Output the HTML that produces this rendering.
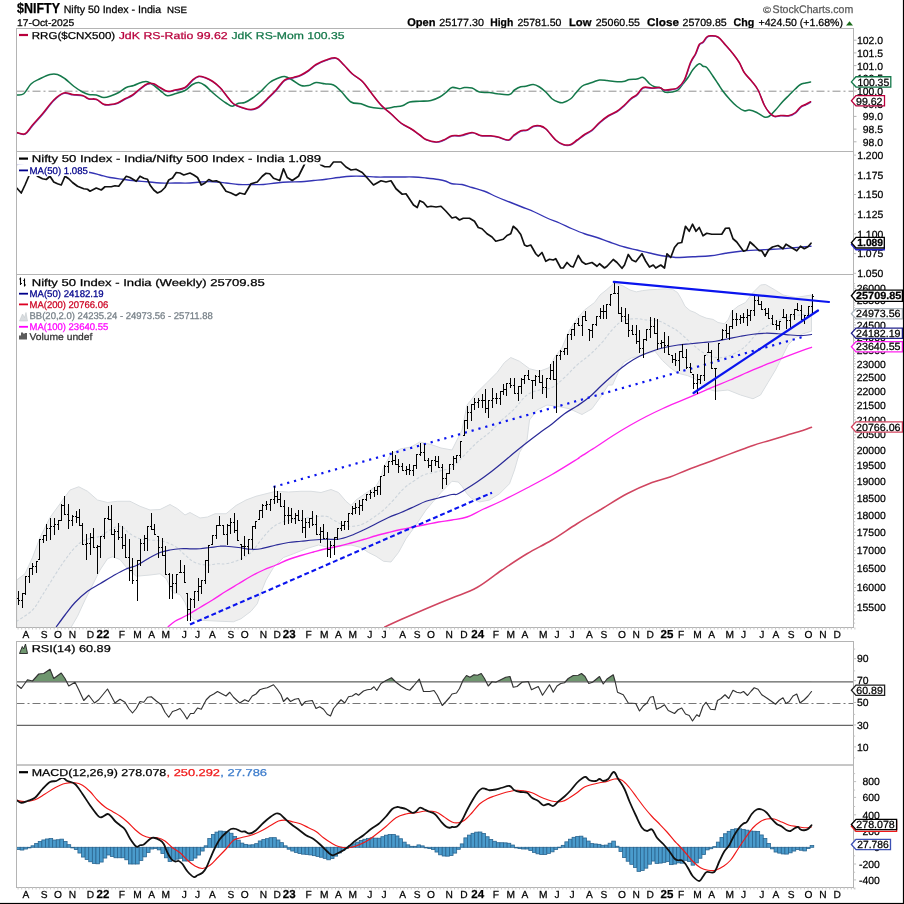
<!DOCTYPE html>
<html lang="en"><head><meta charset="utf-8"><title>$NIFTY - StockCharts</title>
<style>html,body{margin:0;padding:0;background:#fff;}body{width:904px;height:904px;overflow:hidden;font-family:"Liberation Sans",sans-serif;}svg{display:block;will-change:transform;text-rendering:geometricPrecision;}</style></head>
<body>
<svg width="904" height="904" viewBox="0 0 904 904" font-family='"Liberation Sans", sans-serif'>
<rect x="0" y="0" width="904" height="904" fill="#fff"/>
<defs>
<clipPath id="c1"><rect x="16.50" y="28.50" width="837.00" height="123.00"/></clipPath>
<clipPath id="c2"><rect x="16.50" y="151.50" width="837.00" height="123.00"/></clipPath>
<clipPath id="c3"><rect x="16.50" y="274.50" width="837.00" height="353.00"/></clipPath>
<clipPath id="c4"><rect x="16.50" y="641.50" width="837.00" height="123.50"/></clipPath>
<clipPath id="c5"><rect x="16.50" y="765.00" width="837.00" height="122.50"/></clipPath>
</defs>
<text transform="translate(17.00 13.20) scale(0.8668 1)" font-size="14.40px" fill="#000" stroke="#000" stroke-width="0.25" font-weight="bold">$NIFTY</text>
<text transform="translate(63.70 13.00) scale(1.0029 1)" font-size="10.60px" fill="#000" stroke="#000" stroke-width="0.25" font-weight="normal">Nifty 50 Index - India</text>
<text transform="translate(167.00 13.00) scale(1.0808 1)" font-size="9.00px" fill="#000" stroke="#000" stroke-width="0.25" font-weight="normal">NSE</text>
<text transform="translate(17.00 25.90) scale(1.0627 1)" font-size="9.70px" fill="#000" stroke="#000" stroke-width="0.25" font-weight="normal">17-Oct-2025</text>
<text transform="translate(407.20 25.80) scale(1.0067 1)" font-size="11.00px" fill="#000" stroke="#000" stroke-width="0.25" font-weight="bold">Open</text>
<text transform="translate(439.20 25.80) scale(1.0328 1)" font-size="10.40px" fill="#000" stroke="#000" stroke-width="0.25" font-weight="normal">25177.30</text>
<text transform="translate(490.20 25.80) scale(0.9411 1)" font-size="11.00px" fill="#000" stroke="#000" stroke-width="0.25" font-weight="bold">High</text>
<text transform="translate(517.50 25.80) scale(1.0143 1)" font-size="10.40px" fill="#000" stroke="#000" stroke-width="0.25" font-weight="normal">25781.50</text>
<text transform="translate(569.00 25.80) scale(1.0230 1)" font-size="11.00px" fill="#000" stroke="#000" stroke-width="0.25" font-weight="bold">Low</text>
<text transform="translate(595.70 25.80) scale(1.0213 1)" font-size="10.40px" fill="#000" stroke="#000" stroke-width="0.25" font-weight="normal">25060.55</text>
<text transform="translate(647.00 25.80) scale(1.0683 1)" font-size="11.00px" fill="#000" stroke="#000" stroke-width="0.25" font-weight="bold">Close</text>
<text transform="translate(682.50 25.80) scale(1.0213 1)" font-size="10.40px" fill="#000" stroke="#000" stroke-width="0.25" font-weight="normal">25709.85</text>
<text transform="translate(733.50 25.80) scale(0.9728 1)" font-size="11.00px" fill="#000" stroke="#000" stroke-width="0.25" font-weight="bold">Chg</text>
<text transform="translate(758.50 25.80) scale(1.0149 1)" font-size="10.40px" fill="#000" stroke="#000" stroke-width="0.25" font-weight="normal">+424.50 (+1.68%)</text>
<path d="M846 25.6 L853 25.6 L849.5 21.2 Z" fill="#1a6b1a"/>
<text transform="translate(763.00 12.90) scale(1.2064 1)" font-size="9.00px" fill="#555" stroke="#555" stroke-width="0.25" font-weight="normal">©</text>
<text transform="translate(772.60 13.40) scale(0.9624 1)" font-size="11.00px" fill="#5a5a5a" stroke="#5a5a5a" stroke-width="0.25" font-weight="normal">StockCharts.com</text>
<g clip-path="url(#c1)">
<line x1="16.50" y1="91.20" x2="853.50" y2="91.20" stroke="#909090" stroke-width="1" stroke-dasharray="8 3 2 3"/>
<path d="M16.75 95.00 C18.01 94.78 21.14 95.78 23.75 93.75 C26.36 91.72 28.32 86.45 31.25 83.75 C34.17 81.05 36.62 80.42 40.00 78.75 C43.38 77.08 46.85 75.27 50.00 74.50 C53.15 73.73 54.80 73.73 57.50 74.50 C60.20 75.27 62.08 76.64 65.00 78.75 C67.92 80.86 70.60 83.86 73.75 86.25 C76.90 88.64 79.80 90.52 82.50 92.00 C85.20 93.48 86.28 93.96 88.75 94.50 C91.22 95.04 93.55 94.46 96.25 95.00 C98.95 95.54 101.05 97.36 103.75 97.50 C106.45 97.64 108.55 96.65 111.25 95.75 C113.95 94.85 116.05 93.98 118.75 92.50 C121.45 91.02 123.55 88.76 126.25 87.50 C128.95 86.24 131.05 86.40 133.75 85.50 C136.45 84.60 138.78 83.17 141.25 82.50 C143.72 81.83 145.03 81.08 147.50 81.75 C149.97 82.42 152.30 84.31 155.00 86.25 C157.70 88.19 160.25 90.79 162.50 92.50 C164.75 94.21 165.25 95.53 167.50 95.75 C169.75 95.97 171.85 94.69 175.00 93.75 C178.15 92.81 181.85 92.17 185.00 90.50 C188.15 88.83 190.03 85.94 192.50 84.50 C194.97 83.06 196.50 82.32 198.75 82.50 C201.00 82.68 202.53 83.70 205.00 85.50 C207.47 87.30 209.80 90.11 212.50 92.50 C215.20 94.89 217.57 96.86 220.00 98.75 C222.43 100.64 223.79 101.65 226.00 103.00 C228.21 104.35 230.00 106.20 232.25 106.25 C234.50 106.30 236.25 103.92 238.50 103.25 C240.75 102.58 242.28 103.40 244.75 102.50 C247.22 101.60 249.32 100.28 252.25 98.25 C255.18 96.22 257.85 94.08 261.00 91.25 C264.15 88.42 266.60 84.89 269.75 82.50 C272.90 80.11 275.80 79.08 278.50 78.00 C281.20 76.92 282.27 76.14 284.75 76.50 C287.23 76.86 289.32 78.38 292.25 80.00 C295.18 81.62 298.07 84.51 301.00 85.50 C303.93 86.49 305.80 86.04 308.50 85.50 C311.20 84.96 313.07 82.81 316.00 82.50 C318.93 82.19 321.60 83.30 324.75 83.75 C327.90 84.20 330.57 83.65 333.50 85.00 C336.43 86.35 337.85 88.19 341.00 91.25 C344.15 94.31 347.40 99.75 351.00 102.00 C354.60 104.25 357.62 102.85 361.00 103.75 C364.38 104.65 366.60 106.19 369.75 107.00 C372.90 107.81 375.35 108.03 378.50 108.25 C381.65 108.47 384.32 108.52 387.25 108.25 C390.18 107.98 392.05 107.20 394.75 106.75 C397.45 106.30 399.55 106.61 402.25 105.75 C404.95 104.89 406.60 102.81 409.75 102.00 C412.90 101.19 415.93 101.52 419.75 101.25 C423.57 100.98 427.40 101.27 431.00 100.50 C434.60 99.73 437.05 98.44 439.75 97.00 C442.45 95.56 443.80 94.21 446.00 92.50 C448.20 90.79 449.57 88.17 452.00 87.50 C454.43 86.83 457.25 88.75 459.50 88.75 C461.75 88.75 462.25 87.64 464.50 87.50 C466.75 87.36 469.30 87.19 472.00 88.00 C474.70 88.81 476.35 91.19 479.50 92.00 C482.65 92.81 486.35 92.19 489.50 92.50 C492.65 92.81 493.40 93.39 497.00 93.75 C500.60 94.11 506.35 95.17 509.50 94.50 C512.65 93.83 512.48 91.39 514.50 90.00 C516.52 88.61 518.73 87.42 520.75 86.75 C522.77 86.08 523.50 86.66 525.75 86.25 C528.00 85.84 530.77 84.36 533.25 84.50 C535.73 84.64 537.25 85.65 539.50 87.00 C541.75 88.35 543.50 89.89 545.75 92.00 C548.00 94.11 549.75 96.95 552.00 98.75 C554.25 100.55 556.23 101.33 558.25 102.00 C560.27 102.67 561.00 103.08 563.25 102.50 C565.50 101.92 568.50 100.46 570.75 98.75 C573.00 97.04 573.73 95.25 575.75 93.00 C577.77 90.75 579.75 87.92 582.00 86.25 C584.25 84.58 586.23 84.52 588.25 83.75 C590.27 82.98 591.23 82.67 593.25 82.00 C595.27 81.33 597.02 80.27 599.50 80.00 C601.98 79.73 604.30 80.23 607.00 80.50 C609.70 80.77 611.58 81.32 614.50 81.50 C617.42 81.68 620.55 81.86 623.25 81.50 C625.95 81.14 627.02 79.95 629.50 79.50 C631.98 79.05 634.52 79.36 637.00 79.00 C639.48 78.64 641.00 76.64 643.25 77.50 C645.50 78.36 647.48 82.08 649.50 83.75 C651.52 85.42 652.48 85.98 654.50 86.75 C656.52 87.52 658.95 87.06 660.75 88.00 C662.55 88.94 662.48 91.28 664.50 92.00 C666.52 92.72 669.57 92.36 672.00 92.00 C674.43 91.64 676.02 91.48 678.00 90.00 C679.98 88.52 681.20 86.00 683.00 83.75 C684.80 81.50 686.20 80.06 688.00 77.50 C689.80 74.94 690.98 71.97 693.00 69.50 C695.02 67.03 697.45 64.33 699.25 63.75 C701.05 63.16 701.65 65.58 703.00 66.25 C704.35 66.92 704.95 65.70 706.75 67.50 C708.55 69.30 710.98 73.33 713.00 76.25 C715.02 79.17 716.20 81.05 718.00 83.75 C719.80 86.45 720.98 88.55 723.00 91.25 C725.02 93.95 726.77 96.05 729.25 98.75 C731.73 101.45 734.05 104.09 736.75 106.25 C739.45 108.41 742.00 110.08 744.25 110.75 C746.50 111.42 747.00 109.69 749.25 110.00 C751.50 110.31 754.05 111.24 756.75 112.50 C759.45 113.76 762.00 116.33 764.25 117.00 C766.50 117.67 767.23 117.51 769.25 116.25 C771.27 114.99 773.02 112.70 775.50 110.00 C777.98 107.30 780.52 103.95 783.00 101.25 C785.48 98.55 787.00 97.25 789.25 95.00 C791.50 92.75 793.48 90.64 795.50 88.75 C797.52 86.86 798.70 85.53 800.50 84.50 C802.30 83.47 803.70 83.45 805.50 83.00 C807.30 82.55 809.60 82.18 810.50 82.00" fill="none" stroke="#14784a" stroke-width="1.55" stroke-linejoin="round" stroke-linecap="round"/>
<path d="M17.05 133.00 C18.54 133.22 22.47 135.60 25.30 134.25 C28.13 132.90 29.65 129.10 32.80 125.50 C35.95 121.90 38.97 118.75 42.80 114.25 C46.62 109.75 50.22 104.23 54.05 100.50 C57.88 96.77 60.67 94.49 64.05 93.50 C67.42 92.51 69.42 94.55 72.80 95.00 C76.17 95.45 79.88 95.23 82.80 96.00 C85.72 96.77 86.58 98.58 89.05 99.25 C91.52 99.92 93.85 98.76 96.55 99.75 C99.25 100.74 101.58 103.81 104.05 104.75 C106.52 105.69 107.83 105.22 110.30 105.00 C112.77 104.78 115.10 104.53 117.80 103.50 C120.50 102.47 122.60 100.69 125.30 99.25 C128.00 97.81 130.10 97.30 132.80 95.50 C135.50 93.70 137.60 91.28 140.30 89.25 C143.00 87.22 145.33 85.15 147.80 84.25 C150.28 83.35 151.80 83.58 154.05 84.25 C156.30 84.92 157.83 86.65 160.30 88.00 C162.78 89.35 165.10 91.30 167.80 91.75 C170.50 92.20 172.15 91.17 175.30 90.50 C178.45 89.83 182.15 89.80 185.30 88.00 C188.45 86.20 190.33 82.53 192.80 80.50 C195.28 78.47 196.80 77.20 199.05 76.75 C201.30 76.30 202.83 77.10 205.30 78.00 C207.78 78.90 210.10 79.95 212.80 81.75 C215.50 83.55 217.87 85.53 220.30 88.00 C222.73 90.47 223.87 92.58 226.30 95.50 C228.73 98.42 230.65 101.91 233.80 104.25 C236.95 106.59 240.65 107.47 243.80 108.50 C246.95 109.53 248.60 110.18 251.30 110.00 C254.00 109.82 255.88 109.44 258.80 107.50 C261.73 105.56 264.40 102.31 267.55 99.25 C270.70 96.19 273.15 93.88 276.30 90.50 C279.45 87.12 281.90 82.75 285.05 80.50 C288.20 78.25 290.88 78.90 293.80 78.00 C296.73 77.10 298.60 76.76 301.30 75.50 C304.00 74.24 306.10 72.89 308.80 71.00 C311.50 69.11 313.15 66.89 316.30 65.00 C319.45 63.11 322.70 61.67 326.30 60.50 C329.90 59.33 333.15 57.69 336.30 58.50 C339.45 59.31 340.88 62.16 343.80 65.00 C346.73 67.83 349.18 71.23 352.55 74.25 C355.93 77.27 359.18 78.38 362.55 81.75 C365.93 85.12 367.93 88.72 371.30 93.00 C374.68 97.28 377.70 101.67 381.30 105.50 C384.90 109.33 387.70 111.01 391.30 114.25 C394.90 117.49 397.70 120.80 401.30 123.50 C404.90 126.20 407.93 127.09 411.30 129.25 C414.68 131.41 417.35 133.56 420.05 135.50 C422.75 137.44 423.38 138.74 426.30 140.00 C429.23 141.26 433.15 142.41 436.30 142.50 C439.45 142.59 440.92 141.62 443.80 140.50 C446.68 139.38 449.19 137.06 452.30 136.25 C455.41 135.44 457.45 136.59 461.05 136.00 C464.65 135.41 468.70 133.00 472.30 133.00 C475.90 133.00 477.68 135.41 481.05 136.00 C484.43 136.59 487.90 135.98 491.05 136.25 C494.20 136.52 495.40 136.74 498.55 137.50 C501.70 138.26 505.85 140.72 508.55 140.50 C511.25 140.28 511.30 137.91 513.55 136.25 C515.80 134.59 518.57 132.28 521.05 131.25 C523.52 130.22 525.05 131.31 527.30 130.50 C529.55 129.69 531.30 127.52 533.55 126.75 C535.80 125.98 537.55 125.80 539.80 126.25 C542.05 126.70 543.12 126.69 546.05 129.25 C548.97 131.81 552.90 137.66 556.05 140.50 C559.20 143.34 560.85 144.19 563.55 145.00 C566.25 145.81 568.57 145.81 571.05 145.00 C573.52 144.19 574.82 142.30 577.30 140.50 C579.77 138.70 582.10 136.80 584.80 135.00 C587.50 133.20 589.60 132.66 592.30 130.50 C595.00 128.34 596.88 125.56 599.80 123.00 C602.72 120.44 605.40 118.28 608.55 116.25 C611.70 114.22 614.38 113.69 617.30 111.75 C620.22 109.81 622.32 107.75 624.80 105.50 C627.27 103.25 628.80 101.14 631.05 99.25 C633.30 97.36 635.05 97.03 637.30 95.00 C639.55 92.97 640.85 89.17 643.55 88.00 C646.25 86.83 649.38 88.50 652.30 88.50 C655.22 88.50 657.55 87.64 659.80 88.00 C662.05 88.36 662.55 90.19 664.80 90.50 C667.05 90.81 669.87 90.20 672.30 89.75 C674.73 89.30 676.09 89.67 678.30 88.00 C680.50 86.33 682.30 85.00 684.55 80.50 C686.80 76.00 688.77 67.72 690.80 63.00 C692.82 58.27 694.22 57.49 695.80 54.25 C697.38 51.01 698.20 47.12 699.55 45.00 C700.90 42.88 701.95 43.85 703.30 42.50 C704.65 41.15 705.70 38.62 707.05 37.50 C708.40 36.38 708.77 36.25 710.80 36.25 C712.82 36.25 715.60 35.84 718.30 37.50 C721.00 39.16 723.10 42.48 725.80 45.50 C728.50 48.52 730.82 51.10 733.30 54.25 C735.77 57.40 737.52 59.62 739.55 63.00 C741.57 66.38 742.30 69.62 744.55 73.00 C746.80 76.38 749.57 78.60 752.05 81.75 C754.52 84.90 756.05 86.22 758.30 90.50 C760.55 94.78 762.52 101.45 764.55 105.50 C766.57 109.55 767.75 110.97 769.55 113.00 C771.35 115.03 772.52 116.21 774.55 116.75 C776.57 117.29 778.10 116.14 780.80 116.00 C783.50 115.86 786.85 116.54 789.55 116.00 C792.25 115.46 793.77 114.53 795.80 113.00 C797.82 111.47 799.00 108.94 800.80 107.50 C802.60 106.06 804.00 105.94 805.80 105.00 C807.60 104.06 809.90 102.75 810.80 102.25" fill="none" stroke="#6a55c8" stroke-width="1.2" stroke-linejoin="round" stroke-linecap="round"/>
<path d="M16.75 132.50 C18.23 132.72 22.16 135.10 25.00 133.75 C27.84 132.40 29.35 128.60 32.50 125.00 C35.65 121.40 38.67 118.25 42.50 113.75 C46.33 109.25 49.92 103.73 53.75 100.00 C57.58 96.27 60.38 93.99 63.75 93.00 C67.12 92.01 69.12 94.05 72.50 94.50 C75.88 94.95 79.58 94.73 82.50 95.50 C85.42 96.27 86.28 98.08 88.75 98.75 C91.22 99.42 93.55 98.26 96.25 99.25 C98.95 100.24 101.28 103.31 103.75 104.25 C106.22 105.19 107.53 104.72 110.00 104.50 C112.47 104.28 114.80 104.03 117.50 103.00 C120.20 101.97 122.30 100.19 125.00 98.75 C127.70 97.31 129.80 96.80 132.50 95.00 C135.20 93.20 137.30 90.78 140.00 88.75 C142.70 86.72 145.03 84.65 147.50 83.75 C149.97 82.85 151.50 83.08 153.75 83.75 C156.00 84.42 157.53 86.15 160.00 87.50 C162.47 88.85 164.80 90.80 167.50 91.25 C170.20 91.70 171.85 90.67 175.00 90.00 C178.15 89.33 181.85 89.30 185.00 87.50 C188.15 85.70 190.03 82.03 192.50 80.00 C194.97 77.97 196.50 76.70 198.75 76.25 C201.00 75.80 202.53 76.60 205.00 77.50 C207.47 78.40 209.80 79.45 212.50 81.25 C215.20 83.05 217.57 85.03 220.00 87.50 C222.43 89.97 223.57 92.08 226.00 95.00 C228.43 97.92 230.35 101.41 233.50 103.75 C236.65 106.09 240.35 106.97 243.50 108.00 C246.65 109.03 248.30 109.68 251.00 109.50 C253.70 109.32 255.57 108.94 258.50 107.00 C261.43 105.06 264.10 101.81 267.25 98.75 C270.40 95.69 272.85 93.38 276.00 90.00 C279.15 86.62 281.60 82.25 284.75 80.00 C287.90 77.75 290.57 78.40 293.50 77.50 C296.43 76.60 298.30 76.26 301.00 75.00 C303.70 73.74 305.80 72.39 308.50 70.50 C311.20 68.61 312.85 66.39 316.00 64.50 C319.15 62.61 322.40 61.17 326.00 60.00 C329.60 58.83 332.85 57.19 336.00 58.00 C339.15 58.81 340.57 61.66 343.50 64.50 C346.43 67.33 348.88 70.73 352.25 73.75 C355.62 76.77 358.88 77.88 362.25 81.25 C365.62 84.62 367.62 88.22 371.00 92.50 C374.38 96.78 377.40 101.17 381.00 105.00 C384.60 108.83 387.40 110.51 391.00 113.75 C394.60 116.99 397.40 120.30 401.00 123.00 C404.60 125.70 407.62 126.59 411.00 128.75 C414.38 130.91 417.05 133.06 419.75 135.00 C422.45 136.94 423.07 138.24 426.00 139.50 C428.93 140.76 432.85 141.91 436.00 142.00 C439.15 142.09 440.62 141.12 443.50 140.00 C446.38 138.88 448.89 136.56 452.00 135.75 C455.11 134.94 457.15 136.09 460.75 135.50 C464.35 134.91 468.40 132.50 472.00 132.50 C475.60 132.50 477.38 134.91 480.75 135.50 C484.12 136.09 487.60 135.48 490.75 135.75 C493.90 136.02 495.10 136.24 498.25 137.00 C501.40 137.76 505.55 140.22 508.25 140.00 C510.95 139.78 511.00 137.41 513.25 135.75 C515.50 134.09 518.27 131.78 520.75 130.75 C523.23 129.72 524.75 130.81 527.00 130.00 C529.25 129.19 531.00 127.02 533.25 126.25 C535.50 125.48 537.25 125.30 539.50 125.75 C541.75 126.20 542.83 126.19 545.75 128.75 C548.67 131.31 552.60 137.16 555.75 140.00 C558.90 142.84 560.55 143.69 563.25 144.50 C565.95 145.31 568.27 145.31 570.75 144.50 C573.23 143.69 574.52 141.80 577.00 140.00 C579.48 138.20 581.80 136.30 584.50 134.50 C587.20 132.70 589.30 132.16 592.00 130.00 C594.70 127.84 596.58 125.06 599.50 122.50 C602.42 119.94 605.10 117.78 608.25 115.75 C611.40 113.72 614.08 113.19 617.00 111.25 C619.92 109.31 622.02 107.25 624.50 105.00 C626.98 102.75 628.50 100.64 630.75 98.75 C633.00 96.86 634.75 96.53 637.00 94.50 C639.25 92.47 640.55 88.67 643.25 87.50 C645.95 86.33 649.08 88.00 652.00 88.00 C654.92 88.00 657.25 87.14 659.50 87.50 C661.75 87.86 662.25 89.69 664.50 90.00 C666.75 90.31 669.57 89.70 672.00 89.25 C674.43 88.80 675.79 89.17 678.00 87.50 C680.21 85.83 682.00 84.50 684.25 80.00 C686.50 75.50 688.48 67.22 690.50 62.50 C692.52 57.77 693.92 56.99 695.50 53.75 C697.08 50.51 697.90 46.62 699.25 44.50 C700.60 42.38 701.65 43.35 703.00 42.00 C704.35 40.65 705.40 38.12 706.75 37.00 C708.10 35.88 708.48 35.75 710.50 35.75 C712.52 35.75 715.30 35.34 718.00 37.00 C720.70 38.66 722.80 41.98 725.50 45.00 C728.20 48.02 730.52 50.60 733.00 53.75 C735.48 56.90 737.23 59.12 739.25 62.50 C741.27 65.88 742.00 69.12 744.25 72.50 C746.50 75.88 749.27 78.10 751.75 81.25 C754.23 84.40 755.75 85.72 758.00 90.00 C760.25 94.28 762.23 100.95 764.25 105.00 C766.27 109.05 767.45 110.47 769.25 112.50 C771.05 114.53 772.23 115.71 774.25 116.25 C776.27 116.79 777.80 115.64 780.50 115.50 C783.20 115.36 786.55 116.04 789.25 115.50 C791.95 114.96 793.48 114.03 795.50 112.50 C797.52 110.97 798.70 108.44 800.50 107.00 C802.30 105.56 803.70 105.44 805.50 104.50 C807.30 103.56 809.60 102.25 810.50 101.75" fill="none" stroke="#b8003c" stroke-width="1.55" stroke-linejoin="round" stroke-linecap="round"/>
</g>
<g clip-path="url(#c2)">
<path d="M16.75 165.00 C19.13 165.22 24.02 165.71 30.00 166.25 C35.98 166.79 42.80 167.32 50.00 168.00 C57.20 168.68 62.80 169.19 70.00 170.00 C77.20 170.81 84.60 171.60 90.00 172.50 C95.40 173.40 96.40 174.10 100.00 175.00 C103.60 175.90 105.95 176.74 110.00 177.50 C114.05 178.26 118.00 178.66 122.50 179.25 C127.00 179.84 130.50 180.30 135.00 180.75 C139.50 181.20 143.00 181.34 147.50 181.75 C152.00 182.16 155.05 182.78 160.00 183.00 C164.95 183.22 169.60 183.00 175.00 183.00 C180.40 183.00 185.50 183.18 190.00 183.00 C194.50 182.82 195.95 182.22 200.00 182.00 C204.05 181.78 207.82 181.57 212.50 181.75 C217.18 181.93 221.32 182.50 226.00 183.00 C230.68 183.50 234.00 184.23 238.50 184.50 C243.00 184.77 246.50 184.50 251.00 184.50 C255.50 184.50 259.00 184.77 263.50 184.50 C268.00 184.23 271.50 183.45 276.00 183.00 C280.50 182.55 284.00 182.22 288.50 182.00 C293.00 181.78 296.50 182.02 301.00 181.75 C305.50 181.48 309.00 180.95 313.50 180.50 C318.00 180.05 321.50 179.79 326.00 179.25 C330.50 178.71 334.00 178.04 338.50 177.50 C343.00 176.96 346.50 176.47 351.00 176.25 C355.50 176.03 359.00 176.12 363.50 176.25 C368.00 176.38 371.50 176.87 376.00 177.00 C380.50 177.13 384.00 177.00 388.50 177.00 C393.00 177.00 396.50 177.00 401.00 177.00 C405.50 177.00 409.00 176.82 413.50 177.00 C418.00 177.18 421.50 177.55 426.00 178.00 C430.50 178.45 434.90 178.91 438.50 179.50 C442.10 180.09 443.57 180.49 446.00 181.25 C448.43 182.01 449.12 183.16 452.00 183.75 C454.88 184.34 458.40 183.82 462.00 184.50 C465.60 185.18 467.95 186.28 472.00 187.50 C476.05 188.72 480.00 189.54 484.50 191.25 C489.00 192.96 492.50 195.06 497.00 197.00 C501.50 198.94 505.00 200.20 509.50 202.00 C514.00 203.80 517.50 205.20 522.00 207.00 C526.50 208.80 530.00 210.02 534.50 212.00 C539.00 213.98 542.50 216.02 547.00 218.00 C551.50 219.98 555.00 221.06 559.50 223.00 C564.00 224.94 567.50 226.81 572.00 228.75 C576.50 230.69 580.00 232.18 584.50 233.75 C589.00 235.32 592.50 236.01 597.00 237.50 C601.50 238.99 604.55 240.29 609.50 242.00 C614.45 243.71 619.55 245.56 624.50 247.00 C629.45 248.44 632.50 248.92 637.00 250.00 C641.50 251.08 645.00 251.97 649.50 253.00 C654.00 254.03 657.95 255.03 662.00 255.75 C666.05 256.47 669.12 256.69 672.00 257.00 C674.88 257.31 674.22 257.55 678.00 257.50 C681.78 257.45 687.15 257.06 693.00 256.75 C698.85 256.44 704.65 256.38 710.50 255.75 C716.35 255.12 720.10 254.06 725.50 253.25 C730.90 252.44 734.65 251.84 740.50 251.25 C746.35 250.66 752.15 250.36 758.00 250.00 C763.85 249.64 767.15 249.61 773.00 249.25 C778.85 248.89 785.10 248.41 790.50 248.00 C795.90 247.59 799.31 247.31 803.00 247.00 C806.69 246.69 809.56 246.38 811.00 246.25" fill="none" stroke="#3434b4" stroke-width="1.35" stroke-linejoin="round" stroke-linecap="round"/>
<path d="M16.75 188.00 L21.25 193.00 L25.00 185.00 L28.75 176.25 L31.25 170.00 L34.50 172.00 L37.50 176.25 L42.50 178.75 L46.25 179.50 L50.00 176.25 L53.75 182.00 L57.50 183.75 L61.25 185.00 L65.00 176.25 L68.75 178.75 L72.50 182.50 L77.50 186.25 L83.75 188.75 L87.50 189.25 L90.00 191.25 L96.25 188.00 L101.25 190.00 L105.00 186.75 L111.25 186.75 L115.00 185.75 L118.75 186.25 L122.50 181.25 L126.25 176.25 L130.00 177.50 L136.25 181.25 L140.00 176.25 L143.75 178.25 L147.50 179.25 L150.00 185.00 L153.75 190.00 L157.50 193.00 L161.25 191.25 L165.00 187.50 L168.75 180.00 L172.50 178.00 L176.25 172.50 L180.00 173.00 L183.75 175.00 L190.00 173.00 L193.75 175.00 L197.50 177.50 L201.25 185.00 L205.00 183.00 L208.75 179.50 L212.50 181.25 L216.25 180.75 L220.00 182.50 L226.00 191.25 L231.00 193.00 L236.00 195.50 L239.75 193.00 L244.75 194.25 L251.00 183.75 L257.25 182.00 L262.25 176.25 L266.00 173.25 L269.75 173.75 L273.50 178.25 L279.75 180.50 L283.50 168.75 L287.25 177.50 L292.25 180.50 L298.50 176.25 L304.75 163.75 L309.75 158.75 L313.50 160.50 L317.25 159.50 L321.00 165.00 L324.75 166.75 L329.75 166.75 L333.50 162.00 L341.00 162.00 L346.00 167.00 L351.00 170.00 L356.00 169.25 L362.25 172.50 L367.25 178.00 L373.50 185.00 L381.00 180.75 L386.00 182.00 L391.00 180.75 L396.00 188.75 L402.25 194.25 L406.00 193.75 L413.50 205.00 L417.25 207.50 L419.75 200.75 L423.50 202.50 L427.25 207.00 L431.00 206.25 L436.00 207.00 L441.00 206.25 L446.00 211.25 L452.00 218.00 L455.75 217.00 L459.50 220.00 L463.25 218.25 L469.50 218.25 L474.50 221.25 L478.25 227.50 L482.00 228.75 L487.00 233.75 L492.00 237.00 L495.75 241.25 L503.25 239.25 L507.00 235.50 L510.75 233.75 L513.25 226.25 L517.00 229.50 L520.75 234.50 L524.50 245.00 L527.00 246.25 L530.75 245.00 L535.75 253.75 L538.25 256.25 L542.00 252.50 L545.75 261.25 L549.50 259.25 L553.25 260.00 L555.75 258.75 L560.75 268.00 L563.25 268.00 L567.00 262.50 L570.75 266.25 L573.25 267.00 L578.25 255.50 L582.00 261.75 L585.75 264.25 L592.00 262.50 L597.00 266.25 L599.50 263.75 L604.50 268.00 L607.00 266.25 L613.25 259.50 L617.00 262.50 L622.00 268.25 L624.50 265.00 L628.25 254.50 L632.00 260.00 L635.75 261.75 L642.00 253.75 L645.75 261.25 L649.50 267.00 L653.25 265.00 L655.75 268.00 L660.75 265.00 L664.50 268.00 L667.00 253.75 L670.75 257.50 L674.50 247.50 L678.00 243.25 L681.75 242.50 L685.50 226.25 L689.25 231.25 L692.50 224.25 L696.00 231.25 L699.25 227.50 L703.00 235.75 L706.75 233.25 L711.75 234.25 L721.75 234.25 L725.50 228.25 L729.25 228.00 L733.00 238.75 L736.75 242.00 L743.50 251.25 L746.75 250.00 L750.00 242.00 L754.25 245.75 L759.25 250.75 L761.75 250.75 L765.00 256.25 L768.50 250.00 L772.50 247.00 L778.00 245.50 L783.00 248.75 L786.00 244.25 L790.50 247.00 L796.75 250.75 L800.50 246.25 L804.25 248.75 L808.00 246.75 L811.00 243.25" fill="none" stroke="#111" stroke-width="1.7" stroke-linejoin="round" stroke-linecap="round"/>
</g>
<g clip-path="url(#c3)">
<path d="M16.75 580.00 L25.00 573.75 L32.50 557.50 L40.00 537.50 L50.00 517.50 L60.00 503.75 L70.00 490.00 L78.75 486.75 L87.50 491.25 L97.50 500.00 L107.50 502.50 L117.50 501.25 L130.00 501.25 L140.00 506.25 L150.00 510.00 L160.00 509.50 L170.00 504.50 L177.50 508.75 L185.00 515.00 L190.00 512.50 L200.00 518.00 L207.50 517.00 L215.00 513.75 L226.00 513.75 L236.00 505.50 L246.00 500.00 L256.00 496.25 L266.00 493.75 L276.00 491.25 L288.50 492.00 L301.00 491.25 L311.00 491.25 L321.00 492.50 L331.00 489.50 L338.50 492.50 L346.00 501.25 L351.00 505.50 L356.00 500.00 L366.00 493.00 L376.00 486.25 L381.00 477.50 L383.50 467.50 L391.00 453.75 L401.00 448.75 L411.00 447.00 L419.75 442.00 L431.00 444.50 L441.00 448.00 L452.00 450.00 L462.00 430.00 L467.00 405.00 L477.00 392.50 L487.00 382.50 L497.00 372.50 L504.50 362.50 L510.75 357.50 L519.50 361.25 L529.50 368.75 L539.50 371.25 L549.50 367.50 L554.50 357.50 L562.00 347.50 L569.50 330.00 L577.00 318.75 L584.50 310.00 L594.50 302.50 L600.00 295.00 L606.25 290.00 L611.25 285.62 L614.38 282.50 L616.25 283.75 L622.50 285.62 L630.00 290.00 L636.25 291.88 L642.50 290.62 L650.00 289.75 L657.50 289.38 L665.00 288.75 L672.50 289.38 L677.50 292.50 L681.25 298.75 L685.00 306.25 L690.00 310.62 L695.00 312.50 L700.00 315.62 L706.25 318.12 L713.00 319.38 L718.00 322.50 L724.25 323.75 L728.00 320.00 L731.75 311.25 L738.00 306.25 L745.50 302.50 L753.00 292.50 L760.50 285.00 L765.50 284.50 L774.25 289.50 L783.00 295.00 L795.50 297.50 L811.50 295.00 L811.50 331.25 L803.00 333.75 L795.50 337.50 L788.00 345.00 L783.00 355.00 L775.50 370.00 L768.00 382.50 L760.50 395.00 L753.00 398.75 L740.50 395.00 L728.00 390.00 L715.50 391.25 L703.00 387.50 L695.00 378.75 L687.50 375.62 L677.50 373.12 L670.00 367.50 L662.50 360.62 L655.00 351.25 L642.50 355.00 L631.25 358.12 L623.75 362.50 L618.75 371.25 L612.50 385.00 L608.25 385.00 L602.00 395.00 L592.00 408.75 L582.00 414.50 L569.50 408.75 L557.00 406.25 L547.00 405.00 L537.00 410.00 L529.50 420.00 L527.00 440.00 L519.50 452.50 L514.50 470.00 L509.50 483.75 L499.50 493.75 L489.50 500.00 L479.50 502.00 L472.00 498.75 L467.00 493.75 L462.00 486.25 L458.25 482.00 L452.00 481.25 L441.00 492.50 L433.50 501.25 L426.00 510.00 L416.00 525.00 L406.00 538.75 L398.50 552.50 L391.00 562.00 L383.50 561.25 L376.00 556.25 L368.50 552.50 L361.00 547.50 L351.00 545.00 L338.50 546.25 L328.50 547.50 L318.50 545.00 L306.00 548.75 L293.50 553.75 L283.50 557.50 L273.50 567.50 L266.00 580.00 L261.00 592.50 L257.25 603.75 L251.00 611.25 L241.00 618.75 L233.50 621.75 L226.00 621.50 L215.00 621.00 L205.00 620.50 L193.75 619.50 L190.00 615.00 L185.00 602.50 L180.00 594.50 L172.50 592.50 L166.25 578.75 L160.00 573.75 L150.00 575.00 L136.25 576.25 L127.50 568.75 L120.00 559.50 L112.50 556.75 L107.50 558.75 L100.00 570.00 L92.50 585.00 L85.00 600.00 L77.50 616.25 L71.25 627.00 L50.00 655.00 L16.75 665.00 Z" fill="#efefef" stroke="#d9dde0" stroke-width="1" stroke-linejoin="round"/>
<path d="M16.75 621.25 C19.59 619.23 27.87 614.73 32.50 610.00 C37.13 605.27 38.45 601.30 42.50 595.00 C46.55 588.70 50.95 581.30 55.00 575.00 C59.05 568.70 61.40 564.95 65.00 560.00 C68.60 555.05 71.40 551.10 75.00 547.50 C78.60 543.90 80.50 542.02 85.00 540.00 C89.50 537.98 95.50 538.05 100.00 536.25 C104.50 534.45 106.40 531.80 110.00 530.00 C113.60 528.20 116.40 525.58 120.00 526.25 C123.60 526.92 126.40 531.50 130.00 533.75 C133.60 536.00 136.40 537.62 140.00 538.75 C143.60 539.88 145.95 539.55 150.00 540.00 C154.05 540.45 158.00 540.12 162.50 541.25 C167.00 542.38 170.95 543.77 175.00 546.25 C179.05 548.73 181.40 552.08 185.00 555.00 C188.60 557.92 190.95 560.70 195.00 562.50 C199.05 564.30 203.45 564.77 207.50 565.00 C211.55 565.23 214.17 563.98 217.50 563.75 C220.83 563.52 222.22 564.42 226.00 563.75 C229.78 563.08 234.00 562.02 238.50 560.00 C243.00 557.98 246.95 556.10 251.00 552.50 C255.05 548.90 257.40 544.27 261.00 540.00 C264.60 535.73 267.40 531.90 271.00 528.75 C274.60 525.60 277.40 524.08 281.00 522.50 C284.60 520.92 287.40 520.67 291.00 520.00 C294.60 519.33 296.95 519.29 301.00 518.75 C305.05 518.21 309.00 517.45 313.50 517.00 C318.00 516.55 322.40 515.71 326.00 516.25 C329.60 516.79 330.35 518.42 333.50 520.00 C336.65 521.58 339.90 523.88 343.50 525.00 C347.10 526.12 349.90 526.48 353.50 526.25 C357.10 526.02 359.90 525.33 363.50 523.75 C367.10 522.17 369.90 519.98 373.50 517.50 C377.10 515.02 379.90 513.15 383.50 510.00 C387.10 506.85 389.90 503.82 393.50 500.00 C397.10 496.18 399.90 492.12 403.50 488.75 C407.10 485.38 409.90 483.73 413.50 481.25 C417.10 478.77 419.90 476.57 423.50 475.00 C427.10 473.43 429.90 473.40 433.50 472.50 C437.10 471.60 440.17 470.90 443.50 470.00 C446.83 469.10 448.22 470.20 452.00 467.50 C455.78 464.80 460.00 459.50 464.50 455.00 C469.00 450.50 472.50 446.55 477.00 442.50 C481.50 438.45 485.00 436.55 489.50 432.50 C494.00 428.45 497.50 424.27 502.00 420.00 C506.50 415.73 510.00 413.25 514.50 408.75 C519.00 404.25 522.50 398.38 527.00 395.00 C531.50 391.62 535.00 391.35 539.50 390.00 C544.00 388.65 547.50 389.75 552.00 387.50 C556.50 385.25 560.00 381.55 564.50 377.50 C569.00 373.45 572.50 369.05 577.00 365.00 C581.50 360.95 585.00 359.05 589.50 355.00 C594.00 350.95 597.95 347.00 602.00 342.50 C606.05 338.00 608.40 333.82 612.00 330.00 C615.60 326.18 617.95 323.27 622.00 321.25 C626.05 319.23 630.00 318.98 634.50 318.75 C639.00 318.52 642.50 319.55 647.00 320.00 C651.50 320.45 655.45 320.12 659.50 321.25 C663.55 322.38 666.17 324.45 669.50 326.25 C672.83 328.05 674.22 328.32 678.00 331.25 C681.78 334.18 686.00 338.68 690.50 342.50 C695.00 346.32 698.50 349.80 703.00 352.50 C707.50 355.20 711.00 356.82 715.50 357.50 C720.00 358.18 723.50 357.60 728.00 356.25 C732.50 354.90 736.90 352.25 740.50 350.00 C744.10 347.75 745.30 346.45 748.00 343.75 C750.70 341.05 752.80 337.70 755.50 335.00 C758.20 332.30 759.85 331.00 763.00 328.75 C766.15 326.50 769.40 324.30 773.00 322.50 C776.60 320.70 779.40 319.88 783.00 318.75 C786.60 317.62 789.40 317.01 793.00 316.25 C796.60 315.49 799.67 315.04 803.00 314.50 C806.33 313.96 809.97 313.48 811.50 313.25" fill="none" stroke="#ccd4db" stroke-width="1.1" stroke-linejoin="round" stroke-linecap="round" stroke-dasharray="2 2.8"/>
<path d="M384.75 627.00 C387.68 625.65 393.57 622.78 401.00 619.50 C408.43 616.22 416.82 612.62 426.00 608.75 C435.18 604.88 442.82 601.83 452.00 598.00 C461.18 594.17 468.00 592.54 477.00 587.50 C486.00 582.46 493.00 576.08 502.00 570.00 C511.00 563.92 518.00 559.15 527.00 553.75 C536.00 548.35 543.00 545.40 552.00 540.00 C561.00 534.60 568.00 529.38 577.00 523.75 C586.00 518.12 593.00 514.15 602.00 508.75 C611.00 503.35 618.00 498.48 627.00 493.75 C636.00 489.02 644.26 485.51 652.00 482.50 C659.74 479.49 663.77 479.21 670.00 477.00 C676.23 474.79 680.62 472.52 686.60 470.20 C692.58 467.88 697.22 466.33 703.20 464.10 C709.18 461.87 713.82 460.07 719.80 457.80 C725.78 455.53 730.42 453.73 736.40 451.50 C742.38 449.27 747.02 447.40 753.00 445.40 C758.98 443.40 763.64 442.20 769.60 440.40 C775.56 438.60 780.14 437.20 786.10 435.40 C792.06 433.60 798.13 431.88 802.70 430.40 C807.27 428.92 809.92 427.78 811.50 427.20" fill="none" stroke="#d04560" stroke-width="1.55" stroke-linejoin="round" stroke-linecap="round"/>
<path d="M168.00 627.00 C169.26 625.97 171.49 623.41 175.00 621.25 C178.51 619.09 183.00 617.48 187.50 615.00 C192.00 612.52 195.50 610.20 200.00 607.50 C204.50 604.80 207.82 602.92 212.50 600.00 C217.18 597.08 221.32 594.17 226.00 591.25 C230.68 588.33 234.00 586.45 238.50 583.75 C243.00 581.05 246.50 578.73 251.00 576.25 C255.50 573.77 259.00 572.02 263.50 570.00 C268.00 567.98 271.50 566.89 276.00 565.00 C280.50 563.11 284.00 561.21 288.50 559.50 C293.00 557.79 296.50 556.85 301.00 555.50 C305.50 554.15 309.00 553.22 313.50 552.00 C318.00 550.78 321.50 549.78 326.00 548.75 C330.50 547.72 334.00 547.28 338.50 546.25 C343.00 545.22 346.50 544.22 351.00 543.00 C355.50 541.78 359.00 540.80 363.50 539.50 C368.00 538.20 371.50 537.01 376.00 535.75 C380.50 534.49 384.00 533.62 388.50 532.50 C393.00 531.38 396.50 530.49 401.00 529.50 C405.50 528.51 409.00 527.90 413.50 527.00 C418.00 526.10 421.50 525.40 426.00 524.50 C430.50 523.60 433.82 522.81 438.50 522.00 C443.18 521.19 446.87 520.90 452.00 520.00 C457.13 519.10 461.60 518.85 467.00 517.00 C472.40 515.15 475.70 512.67 482.00 509.75 C488.30 506.82 493.90 504.67 502.00 500.75 C510.10 496.83 518.00 492.73 527.00 488.00 C536.00 483.27 543.00 479.68 552.00 474.50 C561.00 469.32 571.96 462.40 577.00 459.25 C582.04 456.10 576.47 459.30 580.00 457.00 C583.53 454.70 590.62 450.37 596.60 446.50 C602.58 442.63 607.23 439.28 613.20 435.50 C619.17 431.72 623.79 428.92 629.75 425.50 C635.71 422.08 640.33 419.56 646.30 416.50 C652.27 413.44 656.92 411.24 662.90 408.50 C668.88 405.76 673.52 403.86 679.50 401.30 C685.48 398.74 690.12 396.84 696.10 394.30 C702.08 391.76 706.60 389.77 712.70 387.20 C718.80 384.63 722.75 383.11 730.00 380.00 C737.25 376.89 745.87 372.92 753.00 369.90 C760.13 366.88 763.64 365.59 769.60 363.20 C775.56 360.81 780.14 358.92 786.10 356.60 C792.06 354.28 798.13 351.97 802.70 350.30 C807.27 348.63 809.92 347.84 811.50 347.30" fill="none" stroke="#ff22ee" stroke-width="1.35" stroke-linejoin="round" stroke-linecap="round"/>
<path d="M56.25 627.00 C57.83 624.84 61.62 619.41 65.00 615.00 C68.38 610.59 70.95 606.77 75.00 602.50 C79.05 598.23 83.00 594.62 87.50 591.25 C92.00 587.88 95.50 586.45 100.00 583.75 C104.50 581.05 108.00 578.82 112.50 576.25 C117.00 573.68 120.50 571.52 125.00 569.50 C129.50 567.48 133.00 567.16 137.50 565.00 C142.00 562.84 145.95 559.75 150.00 557.50 C154.05 555.25 156.40 553.85 160.00 552.50 C163.60 551.15 166.40 550.67 170.00 550.00 C173.60 549.33 176.40 548.98 180.00 548.75 C183.60 548.52 186.40 548.75 190.00 548.75 C193.60 548.75 196.40 548.98 200.00 548.75 C203.60 548.52 206.40 547.95 210.00 547.50 C213.60 547.05 217.12 546.48 220.00 546.25 C222.88 546.02 222.67 546.02 226.00 546.25 C229.33 546.48 234.00 546.96 238.50 547.50 C243.00 548.04 246.95 549.02 251.00 549.25 C255.05 549.48 256.50 549.51 261.00 548.75 C265.50 547.99 271.05 546.12 276.00 545.00 C280.95 543.88 284.00 543.17 288.50 542.50 C293.00 541.83 296.50 541.70 301.00 541.25 C305.50 540.80 309.00 540.36 313.50 540.00 C318.00 539.64 321.50 539.38 326.00 539.25 C330.50 539.12 334.00 539.92 338.50 539.25 C343.00 538.58 346.50 537.16 351.00 535.50 C355.50 533.84 359.00 532.12 363.50 530.00 C368.00 527.88 371.50 526.00 376.00 523.75 C380.50 521.50 384.00 519.52 388.50 517.50 C393.00 515.48 396.50 514.39 401.00 512.50 C405.50 510.61 409.00 509.02 413.50 507.00 C418.00 504.98 421.50 502.87 426.00 501.25 C430.50 499.63 433.82 499.21 438.50 498.00 C443.18 496.79 448.67 495.18 452.00 494.50 C455.33 493.82 454.75 495.06 457.00 494.25 C459.25 493.44 460.90 492.20 464.50 490.00 C468.10 487.80 472.50 485.06 477.00 482.00 C481.50 478.94 485.00 476.42 489.50 473.00 C494.00 469.58 497.50 466.69 502.00 463.00 C506.50 459.31 510.00 456.19 514.50 452.50 C519.00 448.81 522.50 446.01 527.00 442.50 C531.50 438.99 535.00 436.33 539.50 433.00 C544.00 429.67 547.50 427.46 552.00 424.00 C556.50 420.54 560.00 416.99 564.50 413.75 C569.00 410.51 572.50 409.01 577.00 406.00 C581.50 402.99 585.00 400.78 589.50 397.00 C594.00 393.22 597.50 389.19 602.00 385.00 C606.50 380.81 610.00 377.57 614.50 373.75 C619.00 369.93 622.50 366.90 627.00 363.75 C631.50 360.60 635.00 358.50 639.50 356.25 C644.00 354.00 647.50 352.82 652.00 351.25 C656.50 349.68 659.82 348.62 664.50 347.50 C669.18 346.38 673.32 345.68 678.00 345.00 C682.68 344.32 686.00 344.20 690.50 343.75 C695.00 343.30 698.50 342.95 703.00 342.50 C707.50 342.05 711.00 341.93 715.50 341.25 C720.00 340.57 723.50 339.65 728.00 338.75 C732.50 337.85 736.00 337.06 740.50 336.25 C745.00 335.44 748.50 334.79 753.00 334.25 C757.50 333.71 761.00 333.34 765.50 333.25 C770.00 333.16 773.50 333.44 778.00 333.75 C782.50 334.06 786.00 334.69 790.50 335.00 C795.00 335.31 799.22 335.59 803.00 335.50 C806.78 335.41 809.97 334.68 811.50 334.50" fill="none" stroke="#2b2b98" stroke-width="1.25" stroke-linejoin="round" stroke-linecap="round"/>
<line x1="190.00" y1="624.50" x2="492.00" y2="492.70" stroke="#0a14ee" stroke-width="2.1" stroke-dasharray="4.9 2.9"/>
<line x1="273.50" y1="487.00" x2="806.00" y2="336.00" stroke="#0a14ee" stroke-width="2.2" stroke-dasharray="2.2 4.9"/>
<path d="M18.5 591.25 V605.00 M18.5 598.12 h-1.6 M18.5 600.00 h1.6 M22.5 592.50 V607.50 M22.5 600.00 h-1.6 M22.5 593.00 h1.6 M25.5 576.25 V595.00 M25.5 593.00 h-1.6 M25.5 576.75 h1.6 M29.5 568.00 V582.50 M29.5 576.75 h-1.6 M29.5 568.75 h1.6 M32.5 562.50 V575.00 M32.5 568.75 h-1.6 M32.5 566.88 h1.6 M36.5 561.25 V572.50 M36.5 566.88 h-1.6 M36.5 561.75 h1.6 M39.5 538.75 V560.00 M39.5 559.50 h-1.6 M39.5 539.25 h1.6 M43.5 535.00 V542.50 M43.5 539.25 h-1.6 M43.5 535.50 h1.6 M46.5 523.75 V541.25 M46.5 535.50 h-1.6 M46.5 528.75 h1.6 M50.5 518.00 V539.50 M50.5 528.75 h-1.6 M50.5 526.50 h1.6 M54.5 518.00 V535.00 M54.5 526.50 h-1.6 M54.5 524.75 h1.6 M58.5 519.50 V530.00 M58.5 524.75 h-1.6 M58.5 520.00 h1.6 M61.5 503.75 V521.25 M61.5 520.00 h-1.6 M61.5 505.62 h1.6 M64.5 496.25 V515.00 M64.5 505.62 h-1.6 M64.5 514.50 h1.6 M68.5 503.75 V528.75 M68.5 514.50 h-1.6 M68.5 520.62 h1.6 M72.5 515.00 V526.25 M72.5 520.62 h-1.6 M72.5 516.88 h1.6 M76.5 511.25 V522.50 M76.5 516.88 h-1.6 M76.5 517.50 h1.6 M79.5 508.75 V526.25 M79.5 517.50 h-1.6 M79.5 525.75 h1.6 M82.5 522.50 V545.00 M82.5 525.75 h-1.6 M82.5 544.50 h1.6 M86.5 533.75 V559.50 M86.5 544.50 h-1.6 M86.5 543.75 h1.6 M90.5 532.50 V555.00 M90.5 543.75 h-1.6 M90.5 537.75 h1.6 M93.5 528.00 V547.50 M93.5 537.75 h-1.6 M93.5 547.00 h1.6 M97.5 545.00 V573.75 M97.5 547.00 h-1.6 M97.5 546.88 h1.6 M100.5 536.25 V557.50 M100.5 546.88 h-1.6 M100.5 536.75 h1.6 M104.5 517.50 V538.75 M104.5 536.75 h-1.6 M104.5 518.00 h1.6 M108.5 505.50 V520.00 M108.5 518.00 h-1.6 M108.5 519.50 h1.6 M111.5 504.50 V535.00 M111.5 519.50 h-1.6 M111.5 534.50 h1.6 M114.5 528.75 V557.50 M114.5 534.50 h-1.6 M114.5 531.25 h1.6 M118.5 522.50 V540.00 M118.5 531.25 h-1.6 M118.5 537.50 h1.6 M122.5 526.25 V548.75 M122.5 537.50 h-1.6 M122.5 545.62 h1.6 M125.5 533.75 V557.50 M125.5 545.62 h-1.6 M125.5 557.00 h1.6 M129.5 538.75 V581.25 M129.5 557.00 h-1.6 M129.5 570.62 h1.6 M132.5 557.50 V583.75 M132.5 570.62 h-1.6 M132.5 580.62 h1.6 M137.5 560.00 V601.25 M137.5 580.62 h-1.6 M137.5 560.50 h1.6 M140.5 538.75 V566.25 M140.5 560.50 h-1.6 M140.5 543.12 h1.6 M144.5 535.00 V551.25 M144.5 543.12 h-1.6 M144.5 538.75 h1.6 M147.5 526.25 V551.25 M147.5 538.75 h-1.6 M147.5 526.75 h1.6 M151.5 512.50 V530.00 M151.5 526.75 h-1.6 M151.5 529.38 h1.6 M154.5 523.75 V535.00 M154.5 529.38 h-1.6 M154.5 534.50 h1.6 M158.5 536.25 V557.50 M158.5 536.75 h-1.6 M158.5 547.12 h1.6 M162.5 538.00 V556.25 M162.5 547.12 h-1.6 M162.5 555.75 h1.6 M165.5 546.25 V575.00 M165.5 555.75 h-1.6 M165.5 574.50 h1.6 M169.5 572.50 V598.75 M169.5 574.50 h-1.6 M169.5 586.25 h1.6 M172.5 573.75 V598.75 M172.5 586.25 h-1.6 M172.5 583.12 h1.6 M176.5 573.75 V592.50 M176.5 583.12 h-1.6 M176.5 574.25 h1.6 M180.5 559.50 V572.50 M180.5 572.00 h-1.6 M180.5 572.00 h1.6 M184.5 565.00 V582.50 M184.5 572.00 h-1.6 M184.5 582.00 h1.6 M187.5 593.00 V620.50 M187.5 593.50 h-1.6 M187.5 609.25 h1.6 M190.5 598.00 V620.50 M190.5 609.25 h-1.6 M190.5 599.38 h1.6 M194.5 591.25 V607.50 M194.5 599.38 h-1.6 M194.5 591.75 h1.6 M198.5 578.00 V601.25 M198.5 591.75 h-1.6 M198.5 586.88 h1.6 M201.5 580.00 V593.75 M201.5 586.88 h-1.6 M201.5 580.50 h1.6 M205.5 560.00 V583.75 M205.5 580.50 h-1.6 M205.5 560.50 h1.6 M208.5 545.00 V572.50 M208.5 560.50 h-1.6 M208.5 545.50 h1.6 M212.5 534.50 V545.00 M212.5 544.50 h-1.6 M212.5 535.00 h1.6 M216.5 525.00 V538.75 M216.5 535.00 h-1.6 M216.5 525.50 h1.6 M219.5 516.25 V526.25 M219.5 525.50 h-1.6 M219.5 525.75 h1.6 M223.5 525.00 V535.00 M223.5 525.75 h-1.6 M223.5 534.38 h1.6 M227.5 523.75 V545.00 M227.5 534.38 h-1.6 M227.5 525.62 h1.6 M230.5 517.50 V533.75 M230.5 525.62 h-1.6 M230.5 522.75 h1.6 M234.5 513.00 V532.50 M234.5 522.75 h-1.6 M234.5 530.38 h1.6 M237.5 519.50 V541.25 M237.5 530.38 h-1.6 M237.5 540.75 h1.6 M241.5 543.75 V560.00 M241.5 544.25 h-1.6 M241.5 546.25 h1.6 M244.5 536.25 V556.25 M244.5 546.25 h-1.6 M244.5 546.25 h1.6 M248.5 538.75 V553.75 M248.5 546.25 h-1.6 M248.5 539.25 h1.6 M252.5 526.25 V548.75 M252.5 539.25 h-1.6 M252.5 526.75 h1.6 M255.5 520.50 V528.75 M255.5 526.75 h-1.6 M255.5 521.00 h1.6 M259.5 510.00 V520.00 M259.5 519.50 h-1.6 M259.5 510.62 h1.6 M262.5 503.75 V517.50 M262.5 510.62 h-1.6 M262.5 505.62 h1.6 M266.5 501.25 V510.00 M266.5 505.62 h-1.6 M266.5 504.62 h1.6 M270.5 498.75 V510.50 M270.5 504.62 h-1.6 M270.5 499.25 h1.6 M274.5 485.75 V503.75 M274.5 499.25 h-1.6 M274.5 496.88 h1.6 M277.5 491.25 V502.50 M277.5 496.88 h-1.6 M277.5 499.75 h1.6 M280.5 492.50 V507.00 M280.5 499.75 h-1.6 M280.5 506.50 h1.6 M284.5 500.00 V524.50 M284.5 506.50 h-1.6 M284.5 515.38 h1.6 M288.5 507.00 V523.75 M288.5 515.38 h-1.6 M288.5 515.00 h1.6 M291.5 507.50 V522.50 M291.5 515.00 h-1.6 M291.5 518.12 h1.6 M295.5 512.50 V523.75 M295.5 518.12 h-1.6 M295.5 515.62 h1.6 M298.5 510.00 V521.25 M298.5 515.62 h-1.6 M298.5 520.75 h1.6 M302.5 509.50 V532.50 M302.5 520.75 h-1.6 M302.5 527.50 h1.6 M305.5 517.50 V537.50 M305.5 527.50 h-1.6 M305.5 522.75 h1.6 M309.5 518.00 V527.50 M309.5 522.75 h-1.6 M309.5 518.75 h1.6 M312.5 511.25 V526.25 M312.5 518.75 h-1.6 M312.5 524.50 h1.6 M316.5 514.50 V534.50 M316.5 524.50 h-1.6 M316.5 534.00 h1.6 M320.5 527.00 V542.50 M320.5 534.00 h-1.6 M320.5 531.25 h1.6 M323.5 523.75 V538.75 M323.5 531.25 h-1.6 M323.5 538.25 h1.6 M327.5 532.00 V557.00 M327.5 538.25 h-1.6 M327.5 549.38 h1.6 M330.5 541.25 V557.50 M330.5 549.38 h-1.6 M330.5 545.75 h1.6 M334.5 537.00 V554.50 M334.5 545.75 h-1.6 M334.5 537.50 h1.6 M337.5 527.50 V540.00 M337.5 537.50 h-1.6 M337.5 528.00 h1.6 M341.5 521.25 V531.25 M341.5 528.00 h-1.6 M341.5 525.25 h1.6 M344.5 520.50 V530.00 M344.5 525.25 h-1.6 M344.5 521.25 h1.6 M348.5 512.50 V530.00 M348.5 521.25 h-1.6 M348.5 513.00 h1.6 M352.5 506.25 V515.00 M352.5 513.00 h-1.6 M352.5 508.12 h1.6 M355.5 502.50 V513.75 M355.5 508.12 h-1.6 M355.5 507.50 h1.6 M359.5 500.00 V515.00 M359.5 507.50 h-1.6 M359.5 505.00 h1.6 M362.5 498.75 V511.25 M362.5 505.00 h-1.6 M362.5 499.25 h1.6 M366.5 493.75 V501.25 M366.5 499.25 h-1.6 M366.5 494.38 h1.6 M370.5 490.00 V498.75 M370.5 494.38 h-1.6 M370.5 492.00 h1.6 M374.5 487.00 V497.00 M374.5 492.00 h-1.6 M374.5 490.38 h1.6 M377.5 485.75 V495.00 M377.5 490.38 h-1.6 M377.5 486.25 h1.6 M380.5 476.25 V494.50 M380.5 486.25 h-1.6 M380.5 476.75 h1.6 M384.5 465.00 V476.25 M384.5 475.75 h-1.6 M384.5 466.88 h1.6 M388.5 461.25 V472.50 M388.5 466.88 h-1.6 M388.5 461.75 h1.6 M392.5 450.50 V465.00 M392.5 461.75 h-1.6 M392.5 460.00 h1.6 M395.5 455.00 V465.00 M395.5 460.00 h-1.6 M395.5 464.50 h1.6 M398.5 458.75 V472.50 M398.5 464.50 h-1.6 M398.5 466.88 h1.6 M402.5 462.50 V471.25 M402.5 466.88 h-1.6 M402.5 470.62 h1.6 M406.5 466.25 V475.00 M406.5 470.62 h-1.6 M406.5 469.38 h1.6 M409.5 463.75 V475.00 M409.5 469.38 h-1.6 M409.5 470.62 h1.6 M413.5 465.00 V476.25 M413.5 470.62 h-1.6 M413.5 465.50 h1.6 M416.5 453.75 V468.75 M416.5 465.50 h-1.6 M416.5 454.25 h1.6 M420.5 443.00 V456.25 M420.5 454.25 h-1.6 M420.5 452.50 h1.6 M424.5 443.75 V461.25 M424.5 452.50 h-1.6 M424.5 460.75 h1.6 M428.5 457.50 V467.50 M428.5 460.75 h-1.6 M428.5 465.75 h1.6 M431.5 459.50 V472.00 M431.5 465.75 h-1.6 M431.5 460.88 h1.6 M435.5 455.50 V466.25 M435.5 460.88 h-1.6 M435.5 461.50 h1.6 M438.5 455.50 V467.50 M438.5 461.50 h-1.6 M438.5 467.00 h1.6 M442.5 463.75 V488.75 M442.5 467.00 h-1.6 M442.5 478.75 h1.6 M446.5 472.50 V485.00 M446.5 478.75 h-1.6 M446.5 473.00 h1.6 M449.5 463.75 V473.75 M449.5 473.00 h-1.6 M449.5 464.25 h1.6 M453.5 456.25 V470.00 M453.5 464.25 h-1.6 M453.5 458.75 h1.6 M456.5 455.00 V462.50 M456.5 458.75 h-1.6 M456.5 455.50 h1.6 M460.5 441.25 V457.50 M460.5 455.50 h-1.6 M460.5 441.75 h1.6 M464.5 420.00 V436.25 M464.5 435.75 h-1.6 M464.5 420.50 h1.6 M467.5 406.25 V428.75 M467.5 420.50 h-1.6 M467.5 412.50 h1.6 M471.5 403.75 V421.25 M471.5 412.50 h-1.6 M471.5 404.25 h1.6 M474.5 397.50 V410.00 M474.5 404.25 h-1.6 M474.5 402.50 h1.6 M478.5 397.50 V407.50 M478.5 402.50 h-1.6 M478.5 400.62 h1.6 M482.5 393.75 V407.50 M482.5 400.62 h-1.6 M482.5 400.62 h1.6 M485.5 388.75 V412.50 M485.5 400.62 h-1.6 M485.5 408.75 h1.6 M488.5 400.00 V417.50 M488.5 408.75 h-1.6 M488.5 400.50 h1.6 M492.5 387.50 V407.50 M492.5 400.50 h-1.6 M492.5 398.12 h1.6 M496.5 392.50 V403.75 M496.5 398.12 h-1.6 M496.5 398.12 h1.6 M500.5 391.25 V405.00 M500.5 398.12 h-1.6 M500.5 391.75 h1.6 M503.5 383.75 V395.00 M503.5 391.75 h-1.6 M503.5 389.38 h1.6 M506.5 382.50 V396.25 M506.5 389.38 h-1.6 M506.5 383.00 h1.6 M510.5 377.50 V387.50 M510.5 383.00 h-1.6 M510.5 385.62 h1.6 M514.5 377.50 V393.75 M514.5 385.62 h-1.6 M514.5 393.25 h1.6 M518.5 386.25 V401.25 M518.5 393.25 h-1.6 M518.5 386.75 h1.6 M521.5 377.50 V393.75 M521.5 386.75 h-1.6 M521.5 379.38 h1.6 M524.5 375.00 V383.75 M524.5 379.38 h-1.6 M524.5 375.50 h1.6 M528.5 370.00 V380.00 M528.5 375.50 h-1.6 M528.5 379.50 h1.6 M532.5 380.00 V398.75 M532.5 380.50 h-1.6 M532.5 380.62 h1.6 M535.5 375.00 V386.25 M535.5 380.62 h-1.6 M535.5 376.25 h1.6 M539.5 370.00 V382.50 M539.5 376.25 h-1.6 M539.5 382.00 h1.6 M542.5 375.00 V393.75 M542.5 382.00 h-1.6 M542.5 387.50 h1.6 M546.5 377.50 V397.50 M546.5 387.50 h-1.6 M546.5 378.00 h1.6 M550.5 363.75 V380.00 M550.5 378.00 h-1.6 M550.5 370.62 h1.6 M553.5 361.25 V380.00 M553.5 370.62 h-1.6 M553.5 379.50 h1.6 M556.5 355.00 V413.00 M556.5 379.50 h-1.6 M556.5 355.50 h1.6 M560.5 350.00 V360.00 M560.5 355.50 h-1.6 M560.5 351.25 h1.6 M564.5 347.50 V355.00 M564.5 351.25 h-1.6 M564.5 348.00 h1.6 M567.5 333.75 V355.00 M567.5 348.00 h-1.6 M567.5 334.38 h1.6 M571.5 328.75 V340.00 M571.5 334.38 h-1.6 M571.5 329.38 h1.6 M574.5 322.50 V336.25 M574.5 329.38 h-1.6 M574.5 323.00 h1.6 M578.5 317.50 V326.25 M578.5 323.00 h-1.6 M578.5 325.75 h1.6 M582.5 316.25 V336.25 M582.5 325.75 h-1.6 M582.5 316.75 h1.6 M585.5 311.25 V321.25 M585.5 316.75 h-1.6 M585.5 320.75 h1.6 M589.5 328.75 V341.25 M589.5 329.25 h-1.6 M589.5 330.62 h1.6 M592.5 323.75 V337.50 M592.5 330.62 h-1.6 M592.5 324.25 h1.6 M596.5 316.25 V326.25 M596.5 324.25 h-1.6 M596.5 316.75 h1.6 M600.5 307.50 V318.75 M600.5 316.75 h-1.6 M600.5 311.88 h1.6 M603.5 305.00 V318.75 M603.5 311.88 h-1.6 M603.5 311.88 h1.6 M606.5 304.38 V319.38 M606.5 311.88 h-1.6 M606.5 304.88 h1.6 M610.5 293.75 V306.25 M610.5 304.88 h-1.6 M610.5 294.25 h1.6 M614.5 282.75 V293.75 M614.5 293.25 h-1.6 M614.5 293.25 h1.6 M618.5 286.25 V314.38 M618.5 293.25 h-1.6 M618.5 313.88 h1.6 M621.5 307.25 V321.88 M621.5 313.88 h-1.6 M621.5 316.25 h1.6 M625.5 308.12 V324.38 M625.5 316.25 h-1.6 M625.5 323.88 h1.6 M628.5 313.75 V336.88 M628.5 323.88 h-1.6 M628.5 330.00 h1.6 M632.5 325.00 V335.00 M632.5 330.00 h-1.6 M632.5 334.38 h1.6 M636.5 325.00 V343.75 M636.5 334.38 h-1.6 M636.5 341.25 h1.6 M639.5 330.00 V352.50 M639.5 341.25 h-1.6 M639.5 348.44 h1.6 M643.5 339.38 V357.50 M643.5 348.44 h-1.6 M643.5 339.88 h1.6 M646.5 329.38 V341.25 M646.5 339.88 h-1.6 M646.5 329.88 h1.6 M650.5 316.88 V338.12 M650.5 329.88 h-1.6 M650.5 326.25 h1.6 M654.5 318.12 V334.38 M654.5 326.25 h-1.6 M654.5 333.88 h1.6 M657.5 318.75 V350.00 M657.5 333.88 h-1.6 M657.5 343.75 h1.6 M661.5 340.00 V347.50 M661.5 343.75 h-1.6 M661.5 342.19 h1.6 M664.5 331.88 V352.50 M664.5 342.19 h-1.6 M664.5 345.62 h1.6 M668.5 336.25 V355.00 M668.5 345.62 h-1.6 M668.5 354.50 h1.6 M672.5 355.00 V363.12 M672.5 355.50 h-1.6 M672.5 359.37 h1.6 M675.5 353.12 V365.62 M675.5 359.37 h-1.6 M675.5 360.94 h1.6 M679.5 350.62 V371.25 M679.5 360.94 h-1.6 M679.5 351.12 h1.6 M682.5 343.75 V358.12 M682.5 351.12 h-1.6 M682.5 357.62 h1.6 M686.5 349.38 V368.75 M686.5 357.62 h-1.6 M686.5 367.81 h1.6 M690.5 363.12 V372.50 M690.5 367.81 h-1.6 M690.5 372.00 h1.6 M693.5 373.75 V388.75 M693.5 374.25 h-1.6 M693.5 383.75 h1.6 M697.5 373.75 V393.75 M697.5 383.75 h-1.6 M697.5 379.38 h1.6 M700.5 375.00 V383.75 M700.5 379.38 h-1.6 M700.5 375.50 h1.6 M704.5 355.00 V381.25 M704.5 375.50 h-1.6 M704.5 355.50 h1.6 M708.5 342.50 V352.50 M708.5 352.00 h-1.6 M708.5 352.00 h1.6 M711.5 350.00 V368.75 M711.5 352.00 h-1.6 M711.5 368.25 h1.6 M715.5 367.50 V399.50 M715.5 368.25 h-1.6 M715.5 368.00 h1.6 M718.5 342.50 V360.00 M718.5 359.50 h-1.6 M718.5 343.00 h1.6 M722.5 328.75 V340.00 M722.5 339.50 h-1.6 M722.5 330.62 h1.6 M726.5 323.75 V337.50 M726.5 330.62 h-1.6 M726.5 333.12 h1.6 M729.5 326.25 V340.00 M729.5 333.12 h-1.6 M729.5 326.75 h1.6 M732.5 310.00 V328.75 M732.5 326.75 h-1.6 M732.5 319.38 h1.6 M736.5 312.50 V326.25 M736.5 319.38 h-1.6 M736.5 319.38 h1.6 M740.5 315.00 V323.75 M740.5 319.38 h-1.6 M740.5 317.50 h1.6 M743.5 312.50 V322.50 M743.5 317.50 h-1.6 M743.5 317.50 h1.6 M747.5 308.75 V326.25 M747.5 317.50 h-1.6 M747.5 315.62 h1.6 M750.5 310.00 V321.25 M750.5 315.62 h-1.6 M750.5 310.50 h1.6 M754.5 296.25 V316.25 M754.5 310.50 h-1.6 M754.5 300.62 h1.6 M758.5 296.25 V305.00 M758.5 300.62 h-1.6 M758.5 304.50 h1.6 M761.5 301.25 V310.00 M761.5 304.50 h-1.6 M761.5 309.50 h1.6 M765.5 307.50 V316.25 M765.5 309.50 h-1.6 M765.5 313.12 h1.6 M768.5 307.50 V318.75 M768.5 313.12 h-1.6 M768.5 318.25 h1.6 M772.5 315.00 V325.00 M772.5 318.25 h-1.6 M772.5 324.50 h1.6 M776.5 320.00 V330.00 M776.5 324.50 h-1.6 M776.5 325.62 h1.6 M779.5 321.25 V330.00 M779.5 325.62 h-1.6 M779.5 321.75 h1.6 M783.5 308.75 V317.50 M783.5 317.00 h-1.6 M783.5 317.00 h1.6 M786.5 313.75 V328.75 M786.5 317.00 h-1.6 M786.5 320.62 h1.6 M790.5 313.75 V327.50 M790.5 320.62 h-1.6 M790.5 314.38 h1.6 M794.5 308.75 V320.00 M794.5 314.38 h-1.6 M794.5 309.25 h1.6 M797.5 302.50 V311.25 M797.5 309.25 h-1.6 M797.5 310.75 h1.6 M801.5 305.00 V320.00 M801.5 310.75 h-1.6 M801.5 319.38 h1.6 M804.5 315.00 V323.75 M804.5 319.38 h-1.6 M804.5 315.50 h1.6 M808.5 306.25 V317.50 M808.5 315.50 h-1.6 M808.5 306.75 h1.6 M812.5 294.25 V312.50 M812.5 306.75 h-1.6 M812.5 296.45 h1.6" fill="none" stroke="#000" stroke-width="1" shape-rendering="crispEdges"/>
</g>
<line x1="613.80" y1="281.80" x2="829.00" y2="302.00" stroke="#0a14ee" stroke-width="2.2" stroke-linecap="round"/>
<line x1="693.50" y1="393.00" x2="818.00" y2="310.50" stroke="#0a14ee" stroke-width="2.2" stroke-linecap="round"/>
<g clip-path="url(#c4)">
<clipPath id="above70"><rect x="16.50" y="641.50" width="837.00" height="40.30"/></clipPath>
<path d="M16.75 681.80 L16.75 684.75 L21.25 688.50 L27.50 679.75 L32.50 681.00 L38.75 674.00 L43.75 673.50 L50.00 669.25 L53.75 678.50 L61.25 673.00 L65.00 678.50 L68.75 686.00 L75.00 682.25 L78.75 689.75 L83.75 700.50 L88.75 695.25 L94.50 703.00 L98.75 699.75 L107.50 689.00 L115.00 703.00 L120.00 699.25 L125.00 702.25 L128.75 708.50 L132.50 713.00 L136.25 708.50 L140.00 701.50 L143.75 702.25 L147.50 697.25 L151.25 696.75 L156.25 701.00 L161.25 704.75 L165.00 712.25 L168.75 717.25 L172.50 711.50 L176.25 710.25 L180.00 708.50 L183.75 713.50 L187.00 719.00 L190.50 713.50 L193.75 713.50 L197.50 708.00 L201.25 709.25 L206.25 699.75 L210.00 696.00 L213.75 694.00 L217.50 691.50 L221.25 693.50 L226.00 696.00 L229.75 692.25 L233.50 697.25 L239.75 703.00 L244.75 699.75 L248.50 701.50 L252.25 696.00 L256.00 694.00 L259.75 689.75 L263.50 688.50 L267.25 687.75 L273.50 684.75 L277.25 689.25 L281.00 694.75 L283.50 701.50 L287.25 697.75 L290.50 701.50 L294.75 699.25 L298.50 698.50 L301.75 705.50 L305.50 701.50 L312.25 700.50 L316.00 708.50 L319.75 706.75 L323.50 709.25 L327.25 714.25 L330.50 716.00 L333.50 708.50 L337.25 704.00 L341.00 699.75 L344.75 703.00 L348.50 696.75 L352.25 696.00 L356.00 693.50 L358.50 695.25 L363.50 691.00 L367.25 689.75 L371.00 689.25 L374.00 686.75 L376.75 690.50 L381.00 683.50 L386.00 680.50 L391.50 677.75 L396.00 682.25 L401.00 686.00 L406.00 689.00 L409.75 690.25 L413.50 686.00 L419.25 679.00 L423.50 691.50 L429.75 691.50 L434.00 690.50 L437.25 695.25 L442.25 705.50 L446.00 701.50 L449.75 697.25 L452.00 694.00 L456.50 693.00 L459.50 688.50 L463.25 679.75 L466.50 675.50 L470.00 677.25 L474.00 674.75 L477.50 675.25 L481.25 673.50 L484.50 678.50 L488.25 686.00 L492.00 681.75 L495.75 682.25 L500.75 679.75 L505.75 677.25 L510.00 676.50 L513.25 687.25 L517.00 686.50 L522.00 682.25 L528.25 681.50 L531.50 689.75 L538.25 686.50 L542.50 695.25 L549.50 684.75 L553.25 692.25 L557.00 686.00 L560.75 683.50 L564.50 682.75 L568.25 678.50 L573.25 675.50 L578.25 675.25 L581.50 673.50 L585.00 676.50 L588.75 683.50 L592.50 682.25 L599.50 676.50 L603.25 684.00 L607.00 679.00 L613.25 674.75 L615.00 681.00 L617.50 692.25 L623.25 694.75 L628.25 703.00 L635.75 703.50 L639.50 711.00 L643.25 706.00 L647.00 703.00 L650.25 697.25 L653.25 696.50 L656.50 709.25 L660.75 707.25 L664.50 704.75 L668.25 710.50 L674.50 713.50 L678.00 709.75 L681.75 708.00 L685.50 714.00 L689.25 715.50 L692.50 721.00 L696.75 714.75 L699.25 716.50 L703.00 706.00 L706.00 702.25 L710.50 709.25 L715.00 709.75 L717.50 700.50 L721.00 698.50 L725.00 694.75 L728.75 698.50 L733.00 690.25 L736.75 692.25 L740.50 693.00 L743.50 691.50 L747.50 695.50 L751.25 691.00 L754.25 687.75 L758.00 689.25 L761.75 694.75 L766.75 698.00 L771.75 701.50 L775.50 704.25 L779.25 700.25 L783.00 697.75 L786.00 703.50 L789.25 701.50 L793.00 696.00 L796.75 694.00 L800.00 703.00 L804.25 699.75 L808.00 696.00 L811.50 691.50 L811.50 681.80 Z" fill="#6f966f" clip-path="url(#above70)"/>
<line x1="16.50" y1="681.80" x2="853.50" y2="681.80" stroke="#666" stroke-width="1.2"/>
<line x1="16.50" y1="725.30" x2="853.50" y2="725.30" stroke="#666" stroke-width="1.2"/>
<line x1="16.50" y1="703.50" x2="853.50" y2="703.50" stroke="#777" stroke-width="1" stroke-dasharray="8 3 2 3"/>
<path d="M16.75 684.75 L21.25 688.50 L27.50 679.75 L32.50 681.00 L38.75 674.00 L43.75 673.50 L50.00 669.25 L53.75 678.50 L61.25 673.00 L65.00 678.50 L68.75 686.00 L75.00 682.25 L78.75 689.75 L83.75 700.50 L88.75 695.25 L94.50 703.00 L98.75 699.75 L107.50 689.00 L115.00 703.00 L120.00 699.25 L125.00 702.25 L128.75 708.50 L132.50 713.00 L136.25 708.50 L140.00 701.50 L143.75 702.25 L147.50 697.25 L151.25 696.75 L156.25 701.00 L161.25 704.75 L165.00 712.25 L168.75 717.25 L172.50 711.50 L176.25 710.25 L180.00 708.50 L183.75 713.50 L187.00 719.00 L190.50 713.50 L193.75 713.50 L197.50 708.00 L201.25 709.25 L206.25 699.75 L210.00 696.00 L213.75 694.00 L217.50 691.50 L221.25 693.50 L226.00 696.00 L229.75 692.25 L233.50 697.25 L239.75 703.00 L244.75 699.75 L248.50 701.50 L252.25 696.00 L256.00 694.00 L259.75 689.75 L263.50 688.50 L267.25 687.75 L273.50 684.75 L277.25 689.25 L281.00 694.75 L283.50 701.50 L287.25 697.75 L290.50 701.50 L294.75 699.25 L298.50 698.50 L301.75 705.50 L305.50 701.50 L312.25 700.50 L316.00 708.50 L319.75 706.75 L323.50 709.25 L327.25 714.25 L330.50 716.00 L333.50 708.50 L337.25 704.00 L341.00 699.75 L344.75 703.00 L348.50 696.75 L352.25 696.00 L356.00 693.50 L358.50 695.25 L363.50 691.00 L367.25 689.75 L371.00 689.25 L374.00 686.75 L376.75 690.50 L381.00 683.50 L386.00 680.50 L391.50 677.75 L396.00 682.25 L401.00 686.00 L406.00 689.00 L409.75 690.25 L413.50 686.00 L419.25 679.00 L423.50 691.50 L429.75 691.50 L434.00 690.50 L437.25 695.25 L442.25 705.50 L446.00 701.50 L449.75 697.25 L452.00 694.00 L456.50 693.00 L459.50 688.50 L463.25 679.75 L466.50 675.50 L470.00 677.25 L474.00 674.75 L477.50 675.25 L481.25 673.50 L484.50 678.50 L488.25 686.00 L492.00 681.75 L495.75 682.25 L500.75 679.75 L505.75 677.25 L510.00 676.50 L513.25 687.25 L517.00 686.50 L522.00 682.25 L528.25 681.50 L531.50 689.75 L538.25 686.50 L542.50 695.25 L549.50 684.75 L553.25 692.25 L557.00 686.00 L560.75 683.50 L564.50 682.75 L568.25 678.50 L573.25 675.50 L578.25 675.25 L581.50 673.50 L585.00 676.50 L588.75 683.50 L592.50 682.25 L599.50 676.50 L603.25 684.00 L607.00 679.00 L613.25 674.75 L615.00 681.00 L617.50 692.25 L623.25 694.75 L628.25 703.00 L635.75 703.50 L639.50 711.00 L643.25 706.00 L647.00 703.00 L650.25 697.25 L653.25 696.50 L656.50 709.25 L660.75 707.25 L664.50 704.75 L668.25 710.50 L674.50 713.50 L678.00 709.75 L681.75 708.00 L685.50 714.00 L689.25 715.50 L692.50 721.00 L696.75 714.75 L699.25 716.50 L703.00 706.00 L706.00 702.25 L710.50 709.25 L715.00 709.75 L717.50 700.50 L721.00 698.50 L725.00 694.75 L728.75 698.50 L733.00 690.25 L736.75 692.25 L740.50 693.00 L743.50 691.50 L747.50 695.50 L751.25 691.00 L754.25 687.75 L758.00 689.25 L761.75 694.75 L766.75 698.00 L771.75 701.50 L775.50 704.25 L779.25 700.25 L783.00 697.75 L786.00 703.50 L789.25 701.50 L793.00 696.00 L796.75 694.00 L800.00 703.00 L804.25 699.75 L808.00 696.00 L811.50 691.50" fill="none" stroke="#333" stroke-width="1.15" stroke-linejoin="round" stroke-linecap="round"/>
</g>
<g clip-path="url(#c5)">
<g fill="#4a9bcc" stroke="#2a6590" stroke-width="0.8"><rect x="16.60" y="847.30" width="3.61" height="2.16"/><rect x="20.21" y="847.30" width="3.61" height="2.74"/><rect x="23.81" y="847.30" width="3.61" height="1.73"/><rect x="27.42" y="847.30" width="3.61" height="0.60"/><rect x="31.03" y="845.78" width="3.61" height="1.52"/><rect x="34.64" y="843.44" width="3.61" height="3.86"/><rect x="38.24" y="841.48" width="3.61" height="5.82"/><rect x="41.85" y="839.94" width="3.61" height="7.36"/><rect x="45.46" y="838.98" width="3.61" height="8.32"/><rect x="49.06" y="838.60" width="3.61" height="8.70"/><rect x="52.67" y="840.04" width="3.61" height="7.26"/><rect x="56.28" y="839.74" width="3.61" height="7.56"/><rect x="59.88" y="839.14" width="3.61" height="8.16"/><rect x="63.49" y="841.52" width="3.61" height="5.78"/><rect x="67.10" y="844.69" width="3.61" height="2.61"/><rect x="70.71" y="847.30" width="3.61" height="0.60"/><rect x="74.31" y="847.30" width="3.61" height="2.26"/><rect x="77.92" y="847.30" width="3.61" height="5.73"/><rect x="81.53" y="847.30" width="3.61" height="9.75"/><rect x="85.13" y="847.30" width="3.61" height="12.16"/><rect x="88.74" y="847.30" width="3.61" height="14.46"/><rect x="92.35" y="847.30" width="3.61" height="16.19"/><rect x="95.95" y="847.30" width="3.61" height="16.48"/><rect x="99.56" y="847.30" width="3.61" height="14.75"/><rect x="103.17" y="847.30" width="3.61" height="10.74"/><rect x="106.78" y="847.30" width="3.61" height="7.67"/><rect x="110.38" y="847.30" width="3.61" height="9.23"/><rect x="113.99" y="847.30" width="3.61" height="10.45"/><rect x="117.60" y="847.30" width="3.61" height="10.45"/><rect x="121.20" y="847.30" width="3.61" height="10.45"/><rect x="124.81" y="847.30" width="3.61" height="12.47"/><rect x="128.42" y="847.30" width="3.61" height="16.70"/><rect x="132.02" y="847.30" width="3.61" height="16.70"/><rect x="135.63" y="847.30" width="3.61" height="16.70"/><rect x="139.24" y="847.30" width="3.61" height="13.16"/><rect x="142.84" y="847.30" width="3.61" height="9.55"/><rect x="146.45" y="847.30" width="3.61" height="5.13"/><rect x="150.06" y="847.30" width="3.61" height="1.71"/><rect x="153.67" y="847.30" width="3.61" height="1.14"/><rect x="157.27" y="847.30" width="3.61" height="2.58"/><rect x="160.88" y="847.30" width="3.61" height="6.30"/><rect x="164.49" y="847.30" width="3.61" height="10.49"/><rect x="168.09" y="847.30" width="3.61" height="14.10"/><rect x="171.70" y="847.30" width="3.61" height="13.32"/><rect x="175.31" y="847.30" width="3.61" height="11.89"/><rect x="178.91" y="847.30" width="3.61" height="10.99"/><rect x="182.52" y="847.30" width="3.61" height="13.69"/><rect x="186.13" y="847.30" width="3.61" height="13.71"/><rect x="189.74" y="847.30" width="3.61" height="13.11"/><rect x="193.34" y="847.30" width="3.61" height="10.74"/><rect x="196.95" y="847.30" width="3.61" height="7.74"/><rect x="200.56" y="847.30" width="3.61" height="3.75"/><rect x="204.16" y="845.81" width="3.61" height="1.49"/><rect x="207.77" y="838.60" width="3.61" height="8.70"/><rect x="211.38" y="834.57" width="3.61" height="12.73"/><rect x="214.99" y="832.12" width="3.61" height="15.18"/><rect x="218.59" y="831.03" width="3.61" height="16.27"/><rect x="222.20" y="831.33" width="3.61" height="15.97"/><rect x="225.81" y="831.71" width="3.61" height="15.59"/><rect x="229.41" y="833.27" width="3.61" height="14.03"/><rect x="233.02" y="836.57" width="3.61" height="10.73"/><rect x="236.63" y="840.18" width="3.61" height="7.12"/><rect x="240.23" y="843.11" width="3.61" height="4.19"/><rect x="243.84" y="844.38" width="3.61" height="2.92"/><rect x="247.45" y="844.99" width="3.61" height="2.31"/><rect x="251.06" y="844.79" width="3.61" height="2.51"/><rect x="254.66" y="843.65" width="3.61" height="3.65"/><rect x="258.27" y="840.95" width="3.61" height="6.35"/><rect x="261.88" y="839.58" width="3.61" height="7.72"/><rect x="265.48" y="838.66" width="3.61" height="8.64"/><rect x="269.09" y="837.70" width="3.61" height="9.60"/><rect x="272.70" y="837.65" width="3.61" height="9.65"/><rect x="276.30" y="839.99" width="3.61" height="7.31"/><rect x="279.91" y="842.66" width="3.61" height="4.64"/><rect x="283.52" y="845.82" width="3.61" height="1.48"/><rect x="287.13" y="847.30" width="3.61" height="1.91"/><rect x="290.73" y="847.30" width="3.61" height="3.72"/><rect x="294.34" y="847.30" width="3.61" height="5.08"/><rect x="297.95" y="847.30" width="3.61" height="6.28"/><rect x="301.55" y="847.30" width="3.61" height="6.86"/><rect x="305.16" y="847.30" width="3.61" height="7.10"/><rect x="308.77" y="847.30" width="3.61" height="7.61"/><rect x="312.37" y="847.30" width="3.61" height="8.34"/><rect x="315.98" y="847.30" width="3.61" height="9.12"/><rect x="319.59" y="847.30" width="3.61" height="9.96"/><rect x="323.20" y="847.30" width="3.61" height="11.05"/><rect x="326.80" y="847.30" width="3.61" height="12.49"/><rect x="330.41" y="847.30" width="3.61" height="11.28"/><rect x="334.02" y="847.30" width="3.61" height="8.82"/><rect x="337.62" y="847.30" width="3.61" height="5.62"/><rect x="341.23" y="847.30" width="3.61" height="3.18"/><rect x="344.84" y="847.30" width="3.61" height="1.22"/><rect x="348.44" y="845.81" width="3.61" height="1.49"/><rect x="352.05" y="843.82" width="3.61" height="3.48"/><rect x="355.66" y="842.12" width="3.61" height="5.18"/><rect x="359.27" y="840.55" width="3.61" height="6.75"/><rect x="362.87" y="839.23" width="3.61" height="8.07"/><rect x="366.48" y="838.38" width="3.61" height="8.92"/><rect x="370.09" y="837.84" width="3.61" height="9.46"/><rect x="373.69" y="838.20" width="3.61" height="9.10"/><rect x="377.30" y="838.24" width="3.61" height="9.06"/><rect x="380.91" y="836.68" width="3.61" height="10.62"/><rect x="384.51" y="835.19" width="3.61" height="12.11"/><rect x="388.12" y="834.47" width="3.61" height="12.83"/><rect x="391.73" y="834.51" width="3.61" height="12.79"/><rect x="395.34" y="835.96" width="3.61" height="11.34"/><rect x="398.94" y="838.75" width="3.61" height="8.55"/><rect x="402.55" y="842.14" width="3.61" height="5.16"/><rect x="406.16" y="844.84" width="3.61" height="2.46"/><rect x="409.76" y="846.32" width="3.61" height="0.98"/><rect x="413.37" y="846.33" width="3.61" height="0.97"/><rect x="416.98" y="844.89" width="3.61" height="2.41"/><rect x="420.58" y="845.87" width="3.61" height="1.43"/><rect x="424.19" y="847.30" width="3.61" height="0.60"/><rect x="427.80" y="847.30" width="3.61" height="1.29"/><rect x="431.41" y="847.30" width="3.61" height="2.13"/><rect x="435.01" y="847.30" width="3.61" height="4.74"/><rect x="438.62" y="847.30" width="3.61" height="7.51"/><rect x="442.23" y="847.30" width="3.61" height="8.71"/><rect x="445.83" y="847.30" width="3.61" height="8.86"/><rect x="449.44" y="847.30" width="3.61" height="8.11"/><rect x="453.05" y="847.30" width="3.61" height="5.81"/><rect x="456.65" y="847.30" width="3.61" height="2.01"/><rect x="460.26" y="843.89" width="3.61" height="3.41"/><rect x="463.87" y="837.88" width="3.61" height="9.42"/><rect x="467.48" y="835.10" width="3.61" height="12.20"/><rect x="471.08" y="833.32" width="3.61" height="13.98"/><rect x="474.69" y="832.16" width="3.61" height="15.14"/><rect x="478.30" y="832.00" width="3.61" height="15.30"/><rect x="481.90" y="833.54" width="3.61" height="13.76"/><rect x="485.51" y="836.74" width="3.61" height="10.56"/><rect x="489.12" y="839.44" width="3.61" height="7.86"/><rect x="492.72" y="841.26" width="3.61" height="6.04"/><rect x="496.33" y="842.70" width="3.61" height="4.60"/><rect x="499.94" y="842.75" width="3.61" height="4.55"/><rect x="503.55" y="842.85" width="3.61" height="4.45"/><rect x="507.15" y="843.28" width="3.61" height="4.02"/><rect x="510.76" y="845.04" width="3.61" height="2.26"/><rect x="514.37" y="847.30" width="3.61" height="0.60"/><rect x="517.97" y="847.30" width="3.61" height="1.26"/><rect x="521.58" y="847.30" width="3.61" height="1.70"/><rect x="525.19" y="847.30" width="3.61" height="1.70"/><rect x="528.79" y="847.30" width="3.61" height="3.11"/><rect x="532.40" y="847.30" width="3.61" height="5.08"/><rect x="536.01" y="847.30" width="3.61" height="6.52"/><rect x="539.62" y="847.30" width="3.61" height="7.20"/><rect x="543.22" y="847.30" width="3.61" height="7.20"/><rect x="546.83" y="847.30" width="3.61" height="6.05"/><rect x="550.44" y="847.30" width="3.61" height="4.54"/><rect x="554.04" y="847.30" width="3.61" height="2.08"/><rect x="557.65" y="847.15" width="3.61" height="0.60"/><rect x="561.26" y="845.34" width="3.61" height="1.96"/><rect x="564.86" y="841.83" width="3.61" height="5.47"/><rect x="568.47" y="839.20" width="3.61" height="8.10"/><rect x="572.08" y="837.32" width="3.61" height="9.98"/><rect x="575.69" y="836.52" width="3.61" height="10.78"/><rect x="579.29" y="836.17" width="3.61" height="11.13"/><rect x="582.90" y="837.98" width="3.61" height="9.32"/><rect x="586.51" y="841.06" width="3.61" height="6.24"/><rect x="590.11" y="843.62" width="3.61" height="3.68"/><rect x="593.72" y="843.98" width="3.61" height="3.32"/><rect x="597.33" y="844.34" width="3.61" height="2.96"/><rect x="600.93" y="845.30" width="3.61" height="2.00"/><rect x="604.54" y="845.08" width="3.61" height="2.22"/><rect x="608.15" y="843.23" width="3.61" height="4.07"/><rect x="611.76" y="841.11" width="3.61" height="6.19"/><rect x="615.36" y="846.24" width="3.61" height="1.06"/><rect x="618.97" y="847.30" width="3.61" height="4.24"/><rect x="622.58" y="847.30" width="3.61" height="10.25"/><rect x="626.18" y="847.30" width="3.61" height="13.94"/><rect x="629.79" y="847.30" width="3.61" height="17.02"/><rect x="633.40" y="847.30" width="3.61" height="20.13"/><rect x="637.00" y="847.30" width="3.61" height="24.06"/><rect x="640.61" y="847.30" width="3.61" height="23.16"/><rect x="644.22" y="847.30" width="3.61" height="20.87"/><rect x="647.83" y="847.30" width="3.61" height="16.90"/><rect x="651.43" y="847.30" width="3.61" height="13.75"/><rect x="655.04" y="847.30" width="3.61" height="16.10"/><rect x="658.65" y="847.30" width="3.61" height="15.79"/><rect x="662.25" y="847.30" width="3.61" height="15.07"/><rect x="665.86" y="847.30" width="3.61" height="14.26"/><rect x="669.47" y="847.30" width="3.61" height="17.33"/><rect x="673.07" y="847.30" width="3.61" height="16.75"/><rect x="676.68" y="847.30" width="3.61" height="15.55"/><rect x="680.29" y="847.30" width="3.61" height="15.90"/><rect x="683.90" y="847.30" width="3.61" height="13.02"/><rect x="687.50" y="847.30" width="3.61" height="14.26"/><rect x="691.11" y="847.30" width="3.61" height="17.86"/><rect x="694.72" y="847.30" width="3.61" height="15.60"/><rect x="698.32" y="847.30" width="3.61" height="10.95"/><rect x="701.93" y="847.30" width="3.61" height="7.22"/><rect x="705.54" y="847.30" width="3.61" height="2.58"/><rect x="709.14" y="847.30" width="3.61" height="1.41"/><rect x="712.75" y="846.63" width="3.61" height="0.67"/><rect x="716.36" y="842.12" width="3.61" height="5.18"/><rect x="719.97" y="837.48" width="3.61" height="9.82"/><rect x="723.57" y="833.75" width="3.61" height="13.55"/><rect x="727.18" y="831.34" width="3.61" height="15.96"/><rect x="730.79" y="829.37" width="3.61" height="17.93"/><rect x="734.39" y="828.79" width="3.61" height="18.51"/><rect x="738.00" y="828.79" width="3.61" height="18.51"/><rect x="741.61" y="829.37" width="3.61" height="17.93"/><rect x="745.21" y="830.16" width="3.61" height="17.14"/><rect x="748.82" y="831.01" width="3.61" height="16.29"/><rect x="752.43" y="831.25" width="3.61" height="16.05"/><rect x="756.04" y="831.49" width="3.61" height="15.81"/><rect x="759.64" y="834.95" width="3.61" height="12.35"/><rect x="763.25" y="838.55" width="3.61" height="8.75"/><rect x="766.86" y="843.43" width="3.61" height="3.87"/><rect x="770.46" y="847.30" width="3.61" height="1.56"/><rect x="774.07" y="847.30" width="3.61" height="4.74"/><rect x="777.68" y="847.30" width="3.61" height="5.80"/><rect x="781.28" y="847.30" width="3.61" height="6.64"/><rect x="784.89" y="847.30" width="3.61" height="6.78"/><rect x="788.50" y="847.30" width="3.61" height="5.52"/><rect x="792.11" y="847.30" width="3.61" height="3.75"/><rect x="795.71" y="847.30" width="3.61" height="2.28"/><rect x="799.32" y="847.30" width="3.61" height="2.95"/><rect x="802.93" y="847.30" width="3.61" height="3.62"/><rect x="806.53" y="847.30" width="3.61" height="1.15"/><rect x="810.14" y="845.57" width="3.61" height="1.73"/></g>
<path d="M16.75 800.25 C18.23 800.48 21.71 801.59 25.00 801.50 C28.29 801.41 31.40 801.10 35.00 799.75 C38.60 798.40 41.40 796.16 45.00 794.00 C48.60 791.84 51.40 789.64 55.00 787.75 C58.60 785.86 61.40 784.40 65.00 783.50 C68.60 782.60 71.85 782.43 75.00 782.75 C78.15 783.07 79.80 783.67 82.50 785.25 C85.20 786.83 87.30 788.80 90.00 791.50 C92.70 794.20 94.80 797.46 97.50 800.25 C100.20 803.04 102.30 804.98 105.00 807.00 C107.70 809.02 109.80 809.88 112.50 811.50 C115.20 813.12 117.30 814.11 120.00 816.00 C122.70 817.89 124.80 819.57 127.50 822.00 C130.20 824.43 132.30 827.12 135.00 829.50 C137.70 831.88 139.80 833.76 142.50 835.25 C145.20 836.74 147.30 837.30 150.00 837.75 C152.70 838.20 154.80 837.16 157.50 837.75 C160.20 838.34 162.30 839.20 165.00 841.00 C167.70 842.80 169.80 845.63 172.50 847.75 C175.20 849.87 177.30 850.50 180.00 852.75 C182.70 855.00 184.80 857.87 187.50 860.25 C190.20 862.63 192.30 864.51 195.00 866.00 C197.70 867.49 199.80 868.63 202.50 868.50 C205.20 868.37 207.30 867.18 210.00 865.25 C212.70 863.32 214.62 860.67 217.50 857.75 C220.38 854.83 223.12 852.15 226.00 849.00 C228.88 845.85 230.80 842.27 233.50 840.25 C236.20 838.23 237.85 838.65 241.00 837.75 C244.15 836.85 247.40 836.47 251.00 835.25 C254.60 834.03 257.40 832.80 261.00 831.00 C264.60 829.20 267.85 827.05 271.00 825.25 C274.15 823.45 275.80 821.90 278.50 821.00 C281.20 820.10 283.30 820.07 286.00 820.25 C288.70 820.43 290.80 821.33 293.50 822.00 C296.20 822.67 298.30 822.97 301.00 824.00 C303.70 825.03 305.80 826.40 308.50 827.75 C311.20 829.10 313.30 829.70 316.00 831.50 C318.70 833.30 320.80 835.73 323.50 837.75 C326.20 839.77 328.30 841.17 331.00 842.75 C333.70 844.33 335.35 845.60 338.50 846.50 C341.65 847.40 345.35 847.84 348.50 847.75 C351.65 847.66 352.85 847.12 356.00 846.00 C359.15 844.88 362.40 843.57 366.00 841.50 C369.60 839.43 372.40 837.20 376.00 834.50 C379.60 831.80 382.40 829.51 386.00 826.50 C389.60 823.49 392.40 820.00 396.00 817.75 C399.60 815.50 402.40 814.90 406.00 814.00 C409.60 813.10 412.40 813.29 416.00 812.75 C419.60 812.21 422.40 811.13 426.00 811.00 C429.60 810.87 432.85 811.01 436.00 812.00 C439.15 812.99 440.62 814.70 443.50 816.50 C446.38 818.30 449.35 820.88 452.00 822.00 C454.65 823.12 456.00 823.07 458.25 822.75 C460.50 822.43 462.02 822.05 464.50 820.25 C466.98 818.45 469.30 815.67 472.00 812.75 C474.70 809.83 476.80 806.48 479.50 804.00 C482.20 801.52 484.30 800.44 487.00 799.00 C489.70 797.56 491.80 796.99 494.50 796.00 C497.20 795.01 499.30 794.31 502.00 793.50 C504.70 792.69 506.80 792.09 509.50 791.50 C512.20 790.91 514.30 790.34 517.00 790.25 C519.70 790.16 521.80 790.55 524.50 791.00 C527.20 791.45 529.30 791.76 532.00 792.75 C534.70 793.74 536.80 795.28 539.50 796.50 C542.20 797.72 544.30 798.60 547.00 799.50 C549.70 800.40 551.80 801.14 554.50 801.50 C557.20 801.86 559.30 802.17 562.00 801.50 C564.70 800.83 566.80 799.33 569.50 797.75 C572.20 796.17 574.30 794.68 577.00 792.75 C579.70 790.82 581.80 788.49 584.50 787.00 C587.20 785.51 589.30 785.26 592.00 784.50 C594.70 783.74 596.80 783.29 599.50 782.75 C602.20 782.21 604.30 782.17 607.00 781.50 C609.70 780.83 611.80 779.23 614.50 779.00 C617.20 778.77 619.30 778.67 622.00 780.25 C624.70 781.83 626.80 784.60 629.50 787.75 C632.20 790.90 634.30 794.15 637.00 797.75 C639.70 801.35 641.80 804.38 644.50 807.75 C647.20 811.12 649.30 813.58 652.00 816.50 C654.70 819.42 656.80 821.21 659.50 824.00 C662.20 826.79 664.30 828.94 667.00 832.00 C669.70 835.06 672.52 838.75 674.50 841.00 C676.48 843.25 676.02 842.38 678.00 844.50 C679.98 846.62 682.80 849.69 685.50 852.75 C688.20 855.81 690.30 858.80 693.00 861.50 C695.70 864.20 697.80 866.17 700.50 867.75 C703.20 869.33 705.30 869.80 708.00 870.25 C710.70 870.70 712.80 870.92 715.50 870.25 C718.20 869.58 720.30 868.30 723.00 866.50 C725.70 864.70 727.80 863.40 730.50 860.25 C733.20 857.10 735.30 853.05 738.00 849.00 C740.70 844.95 742.80 841.58 745.50 837.75 C748.20 833.92 750.30 830.67 753.00 827.75 C755.70 824.83 758.02 823.08 760.50 821.50 C762.98 819.92 764.27 819.45 766.75 819.00 C769.23 818.55 771.55 818.46 774.25 819.00 C776.95 819.54 779.05 820.88 781.75 822.00 C784.45 823.12 786.55 824.44 789.25 825.25 C791.95 826.06 794.05 826.05 796.75 826.50 C799.45 826.95 801.60 827.66 804.25 827.75 C806.90 827.84 810.20 827.13 811.50 827.00" fill="none" stroke="#f01818" stroke-width="1.15" stroke-linejoin="round" stroke-linecap="round"/>
<path d="M16.75 800.25 C17.56 800.70 19.32 802.62 21.25 802.75 C23.18 802.88 25.02 801.90 27.50 801.00 C29.98 800.10 32.30 799.91 35.00 797.75 C37.70 795.59 39.80 791.84 42.50 789.00 C45.20 786.16 47.52 783.44 50.00 782.00 C52.48 780.56 54.00 781.76 56.25 781.00 C58.50 780.24 60.48 777.75 62.50 777.75 C64.53 777.75 65.25 779.88 67.50 781.00 C69.75 782.12 72.30 781.66 75.00 784.00 C77.70 786.34 79.80 790.17 82.50 794.00 C85.20 797.83 87.30 801.42 90.00 805.25 C92.70 809.08 95.47 813.09 97.50 815.25 C99.53 817.41 99.45 817.48 101.25 817.25 C103.05 817.02 105.70 814.13 107.50 814.00 C109.30 813.87 109.90 815.24 111.25 816.50 C112.60 817.76 113.42 819.42 115.00 821.00 C116.58 822.58 118.20 823.72 120.00 825.25 C121.80 826.78 123.20 827.12 125.00 829.50 C126.80 831.88 127.97 835.44 130.00 838.50 C132.03 841.56 134.45 845.28 136.25 846.50 C138.05 847.72 138.65 845.61 140.00 845.25 C141.35 844.89 141.95 845.62 143.75 844.50 C145.55 843.38 148.20 840.22 150.00 839.00 C151.80 837.78 151.95 837.52 153.75 837.75 C155.55 837.98 158.20 839.12 160.00 840.25 C161.80 841.38 162.40 841.75 163.75 844.00 C165.10 846.25 166.15 850.05 167.50 852.75 C168.85 855.45 169.90 857.42 171.25 859.00 C172.60 860.58 173.65 861.14 175.00 861.50 C176.35 861.86 177.40 860.55 178.75 861.00 C180.10 861.45 180.93 862.11 182.50 864.00 C184.07 865.89 185.47 869.16 187.50 871.50 C189.53 873.84 191.95 876.33 193.75 877.00 C195.55 877.67 195.93 876.01 197.50 875.25 C199.07 874.49 200.93 874.10 202.50 872.75 C204.07 871.40 204.90 870.23 206.25 867.75 C207.60 865.27 208.43 862.60 210.00 859.00 C211.57 855.40 213.20 851.35 215.00 847.75 C216.80 844.15 218.02 841.70 220.00 839.00 C221.98 836.30 224.02 834.55 226.00 832.75 C227.98 830.95 229.20 829.67 231.00 829.00 C232.80 828.33 234.20 828.55 236.00 829.00 C237.80 829.45 239.43 831.05 241.00 831.50 C242.57 831.95 243.18 831.14 244.75 831.50 C246.32 831.86 247.72 833.73 249.75 833.50 C251.78 833.27 253.53 832.18 256.00 830.25 C258.48 828.32 260.80 825.23 263.50 822.75 C266.20 820.27 268.75 818.16 271.00 816.50 C273.25 814.84 274.43 813.95 276.00 813.50 C277.57 813.05 278.18 813.10 279.75 814.00 C281.32 814.90 282.73 816.70 284.75 818.50 C286.77 820.30 288.52 822.02 291.00 824.00 C293.48 825.98 295.80 827.48 298.50 829.50 C301.20 831.52 303.30 833.54 306.00 835.25 C308.70 836.96 310.80 837.20 313.50 839.00 C316.20 840.80 318.52 843.00 321.00 845.25 C323.48 847.50 325.23 849.70 327.25 851.50 C329.27 853.30 330.45 854.89 332.25 855.25 C334.05 855.61 335.23 854.40 337.25 853.50 C339.27 852.60 341.48 851.51 343.50 850.25 C345.52 848.99 346.25 848.30 348.50 846.50 C350.75 844.70 353.30 842.27 356.00 840.25 C358.70 838.23 360.80 837.27 363.50 835.25 C366.20 833.23 368.30 831.02 371.00 829.00 C373.70 826.98 375.80 826.25 378.50 824.00 C381.20 821.75 383.52 819.20 386.00 816.50 C388.48 813.80 390.23 810.71 392.25 809.00 C394.27 807.29 395.68 807.23 397.25 807.00 C398.82 806.77 399.43 807.39 401.00 807.75 C402.57 808.11 403.98 808.10 406.00 809.00 C408.02 809.90 410.45 812.30 412.25 812.75 C414.05 813.20 414.65 812.40 416.00 811.50 C417.35 810.60 418.40 808.20 419.75 807.75 C421.10 807.30 421.93 808.33 423.50 809.00 C425.07 809.67 426.48 810.60 428.50 811.50 C430.52 812.40 432.50 812.20 434.75 814.00 C437.00 815.80 438.98 819.25 441.00 821.50 C443.02 823.75 444.43 825.38 446.00 826.50 C447.57 827.62 448.67 827.66 449.75 827.75 C450.83 827.84 450.69 827.23 452.00 827.00 C453.31 826.77 455.20 827.72 457.00 826.50 C458.80 825.28 460.20 823.17 462.00 820.25 C463.80 817.33 464.98 814.08 467.00 810.25 C469.02 806.42 471.23 802.38 473.25 799.00 C475.27 795.62 476.68 793.39 478.25 791.50 C479.82 789.61 480.65 788.95 482.00 788.50 C483.35 788.05 484.40 788.68 485.75 789.00 C487.10 789.32 487.70 790.16 489.50 790.25 C491.30 790.34 493.50 789.95 495.75 789.50 C498.00 789.05 499.52 788.38 502.00 787.75 C504.48 787.12 507.25 785.55 509.50 786.00 C511.75 786.45 512.48 789.17 514.50 790.25 C516.52 791.33 518.50 791.55 520.75 792.00 C523.00 792.45 524.98 791.72 527.00 792.75 C529.02 793.78 529.98 796.26 532.00 797.75 C534.02 799.24 536.23 799.65 538.25 801.00 C540.27 802.35 541.45 804.71 543.25 805.25 C545.05 805.79 546.45 803.87 548.25 804.00 C550.05 804.13 551.45 806.45 553.25 806.00 C555.05 805.55 556.23 803.21 558.25 801.50 C560.27 799.79 562.25 798.52 564.50 796.50 C566.75 794.48 568.50 792.73 570.75 790.25 C573.00 787.77 574.98 784.87 577.00 782.75 C579.02 780.63 580.42 779.53 582.00 778.50 C583.58 777.47 584.40 776.68 585.75 777.00 C587.10 777.32 587.70 779.53 589.50 780.25 C591.30 780.97 593.95 781.23 595.75 781.00 C597.55 780.77 598.15 779.00 599.50 779.00 C600.85 779.00 601.67 781.00 603.25 781.00 C604.83 781.00 606.36 780.62 608.25 779.00 C610.14 777.38 611.95 772.00 613.75 772.00 C615.55 772.00 616.32 775.94 618.25 779.00 C620.18 782.06 622.48 784.95 624.50 789.00 C626.52 793.05 627.48 796.77 629.50 801.50 C631.52 806.23 633.50 810.52 635.75 815.25 C638.00 819.98 639.98 824.91 642.00 827.75 C644.02 830.59 645.20 830.68 647.00 831.00 C648.80 831.32 650.20 828.28 652.00 829.50 C653.80 830.72 654.98 835.14 657.00 837.75 C659.02 840.36 661.00 841.52 663.25 844.00 C665.50 846.48 667.48 848.89 669.50 851.50 C671.52 854.11 672.97 856.92 674.50 858.50 C676.03 860.08 676.70 859.93 678.00 860.25 C679.30 860.57 680.40 859.58 681.75 860.25 C683.10 860.92 684.15 862.20 685.50 864.00 C686.85 865.80 687.90 868.00 689.25 870.25 C690.60 872.50 691.20 874.57 693.00 876.50 C694.80 878.43 697.45 881.00 699.25 881.00 C701.05 881.00 701.65 878.12 703.00 876.50 C704.35 874.88 704.73 872.81 706.75 872.00 C708.77 871.19 712.00 873.89 714.25 872.00 C716.50 870.11 717.45 865.19 719.25 861.50 C721.05 857.81 722.45 854.42 724.25 851.50 C726.05 848.58 727.45 848.17 729.25 845.25 C731.05 842.33 732.45 838.40 734.25 835.25 C736.05 832.10 737.59 829.87 739.25 827.75 C740.91 825.63 742.15 824.53 743.50 823.50 C744.85 822.47 745.26 823.71 746.75 822.00 C748.24 820.29 749.95 816.25 751.75 814.00 C753.55 811.75 754.95 810.31 756.75 809.50 C758.55 808.69 759.95 808.91 761.75 809.50 C763.55 810.09 764.95 811.04 766.75 812.75 C768.55 814.46 769.95 816.98 771.75 819.00 C773.55 821.02 774.95 822.65 776.75 824.00 C778.55 825.35 779.95 825.38 781.75 826.50 C783.55 827.62 785.17 829.44 786.75 830.25 C788.33 831.06 789.15 831.32 790.50 831.00 C791.85 830.68 792.90 829.22 794.25 828.50 C795.60 827.78 796.88 826.82 798.00 827.00 C799.12 827.18 799.38 828.91 800.50 829.50 C801.62 830.09 802.90 830.34 804.25 830.25 C805.60 830.16 806.70 829.90 808.00 829.00 C809.30 828.10 810.87 825.92 811.50 825.25" fill="none" stroke="#111" stroke-width="1.8" stroke-linejoin="round" stroke-linecap="round"/>
</g>
<rect x="16.50" y="28.50" width="837.00" height="123.00" fill="none" stroke="#b4b4b4" stroke-width="1"/>
<rect x="16.50" y="151.50" width="837.00" height="123.00" fill="none" stroke="#b4b4b4" stroke-width="1"/>
<rect x="16.50" y="274.50" width="837.00" height="353.00" fill="none" stroke="#b4b4b4" stroke-width="1"/>
<rect x="16.50" y="641.50" width="837.00" height="123.50" fill="none" stroke="#b4b4b4" stroke-width="1"/>
<rect x="16.50" y="765.00" width="837.00" height="122.50" fill="none" stroke="#b4b4b4" stroke-width="1"/>
<line x1="853.50" y1="40.20" x2="856.50" y2="40.20" stroke="#b4b4b4" stroke-width="1"/>
<text x="883.00" y="44.10" font-size="10.40px" fill="#000" stroke="#000" stroke-width="0.25" font-weight="normal" text-anchor="end">102.0</text>
<line x1="853.50" y1="52.90" x2="856.50" y2="52.90" stroke="#b4b4b4" stroke-width="1"/>
<text x="883.00" y="56.80" font-size="10.40px" fill="#000" stroke="#000" stroke-width="0.25" font-weight="normal" text-anchor="end">101.5</text>
<line x1="853.50" y1="65.60" x2="856.50" y2="65.60" stroke="#b4b4b4" stroke-width="1"/>
<text x="883.00" y="69.50" font-size="10.40px" fill="#000" stroke="#000" stroke-width="0.25" font-weight="normal" text-anchor="end">101.0</text>
<line x1="853.50" y1="78.30" x2="856.50" y2="78.30" stroke="#b4b4b4" stroke-width="1"/>
<text x="883.00" y="82.20" font-size="10.40px" fill="#000" stroke="#000" stroke-width="0.25" font-weight="normal" text-anchor="end">100.5</text>
<line x1="853.50" y1="91.00" x2="856.50" y2="91.00" stroke="#b4b4b4" stroke-width="1"/>
<text x="883.00" y="94.90" font-size="10.40px" fill="#000" stroke="#000" stroke-width="0.25" font-weight="normal" text-anchor="end">100.0</text>
<line x1="853.50" y1="103.70" x2="856.50" y2="103.70" stroke="#b4b4b4" stroke-width="1"/>
<text x="883.00" y="107.60" font-size="10.40px" fill="#000" stroke="#000" stroke-width="0.25" font-weight="normal" text-anchor="end">99.5</text>
<line x1="853.50" y1="116.40" x2="856.50" y2="116.40" stroke="#b4b4b4" stroke-width="1"/>
<text x="883.00" y="120.30" font-size="10.40px" fill="#000" stroke="#000" stroke-width="0.25" font-weight="normal" text-anchor="end">99.0</text>
<line x1="853.50" y1="129.10" x2="856.50" y2="129.10" stroke="#b4b4b4" stroke-width="1"/>
<text x="883.00" y="133.00" font-size="10.40px" fill="#000" stroke="#000" stroke-width="0.25" font-weight="normal" text-anchor="end">98.5</text>
<line x1="853.50" y1="141.80" x2="856.50" y2="141.80" stroke="#b4b4b4" stroke-width="1"/>
<text x="883.00" y="145.70" font-size="10.40px" fill="#000" stroke="#000" stroke-width="0.25" font-weight="normal" text-anchor="end">98.0</text>
<line x1="853.50" y1="155.10" x2="856.10" y2="155.10" stroke="#c0c0c0" stroke-width="1"/>
<text x="857.20" y="158.80" font-size="10.40px" fill="#000" stroke="#000" stroke-width="0.25" font-weight="normal" text-anchor="start">1.200</text>
<line x1="853.50" y1="174.80" x2="856.10" y2="174.80" stroke="#c0c0c0" stroke-width="1"/>
<text x="857.20" y="178.50" font-size="10.40px" fill="#000" stroke="#000" stroke-width="0.25" font-weight="normal" text-anchor="start">1.175</text>
<line x1="853.50" y1="194.50" x2="856.10" y2="194.50" stroke="#c0c0c0" stroke-width="1"/>
<text x="857.20" y="198.20" font-size="10.40px" fill="#000" stroke="#000" stroke-width="0.25" font-weight="normal" text-anchor="start">1.150</text>
<line x1="853.50" y1="214.20" x2="856.10" y2="214.20" stroke="#c0c0c0" stroke-width="1"/>
<text x="857.20" y="217.90" font-size="10.40px" fill="#000" stroke="#000" stroke-width="0.25" font-weight="normal" text-anchor="start">1.125</text>
<line x1="853.50" y1="233.90" x2="856.10" y2="233.90" stroke="#c0c0c0" stroke-width="1"/>
<text x="857.20" y="237.60" font-size="10.40px" fill="#000" stroke="#000" stroke-width="0.25" font-weight="normal" text-anchor="start">1.100</text>
<line x1="853.50" y1="253.60" x2="856.10" y2="253.60" stroke="#c0c0c0" stroke-width="1"/>
<text x="857.20" y="257.30" font-size="10.40px" fill="#000" stroke="#000" stroke-width="0.25" font-weight="normal" text-anchor="start">1.075</text>
<line x1="853.50" y1="273.30" x2="856.10" y2="273.30" stroke="#c0c0c0" stroke-width="1"/>
<text x="857.20" y="277.00" font-size="10.40px" fill="#000" stroke="#000" stroke-width="0.25" font-weight="normal" text-anchor="start">1.050</text>
<line x1="853.50" y1="607.01" x2="856.10" y2="607.01" stroke="#c0c0c0" stroke-width="1"/>
<text x="856.80" y="610.71" font-size="10.40px" fill="#000" stroke="#000" stroke-width="0.25" font-weight="normal" text-anchor="start">15500</text>
<line x1="853.50" y1="587.46" x2="856.10" y2="587.46" stroke="#c0c0c0" stroke-width="1"/>
<text x="856.80" y="591.16" font-size="10.40px" fill="#000" stroke="#000" stroke-width="0.25" font-weight="normal" text-anchor="start">16000</text>
<line x1="853.50" y1="568.50" x2="856.10" y2="568.50" stroke="#c0c0c0" stroke-width="1"/>
<text x="856.80" y="572.20" font-size="10.40px" fill="#000" stroke="#000" stroke-width="0.25" font-weight="normal" text-anchor="start">16500</text>
<line x1="853.50" y1="550.11" x2="856.10" y2="550.11" stroke="#c0c0c0" stroke-width="1"/>
<text x="856.80" y="553.81" font-size="10.40px" fill="#000" stroke="#000" stroke-width="0.25" font-weight="normal" text-anchor="start">17000</text>
<line x1="853.50" y1="532.26" x2="856.10" y2="532.26" stroke="#c0c0c0" stroke-width="1"/>
<text x="856.80" y="535.96" font-size="10.40px" fill="#000" stroke="#000" stroke-width="0.25" font-weight="normal" text-anchor="start">17500</text>
<line x1="853.50" y1="514.90" x2="856.10" y2="514.90" stroke="#c0c0c0" stroke-width="1"/>
<text x="856.80" y="518.60" font-size="10.40px" fill="#000" stroke="#000" stroke-width="0.25" font-weight="normal" text-anchor="start">18000</text>
<line x1="853.50" y1="498.02" x2="856.10" y2="498.02" stroke="#c0c0c0" stroke-width="1"/>
<text x="856.80" y="501.72" font-size="10.40px" fill="#000" stroke="#000" stroke-width="0.25" font-weight="normal" text-anchor="start">18500</text>
<line x1="853.50" y1="481.60" x2="856.10" y2="481.60" stroke="#c0c0c0" stroke-width="1"/>
<text x="856.80" y="485.30" font-size="10.40px" fill="#000" stroke="#000" stroke-width="0.25" font-weight="normal" text-anchor="start">19000</text>
<line x1="853.50" y1="465.60" x2="856.10" y2="465.60" stroke="#c0c0c0" stroke-width="1"/>
<text x="856.80" y="469.30" font-size="10.40px" fill="#000" stroke="#000" stroke-width="0.25" font-weight="normal" text-anchor="start">19500</text>
<line x1="853.50" y1="450.00" x2="856.10" y2="450.00" stroke="#c0c0c0" stroke-width="1"/>
<text x="856.80" y="453.70" font-size="10.40px" fill="#000" stroke="#000" stroke-width="0.25" font-weight="normal" text-anchor="start">20000</text>
<line x1="853.50" y1="434.79" x2="856.10" y2="434.79" stroke="#c0c0c0" stroke-width="1"/>
<text x="856.80" y="438.49" font-size="10.40px" fill="#000" stroke="#000" stroke-width="0.25" font-weight="normal" text-anchor="start">20500</text>
<line x1="853.50" y1="419.95" x2="856.10" y2="419.95" stroke="#c0c0c0" stroke-width="1"/>
<text x="856.80" y="423.65" font-size="10.40px" fill="#000" stroke="#000" stroke-width="0.25" font-weight="normal" text-anchor="start">21000</text>
<line x1="853.50" y1="405.45" x2="856.10" y2="405.45" stroke="#c0c0c0" stroke-width="1"/>
<text x="856.80" y="409.15" font-size="10.40px" fill="#000" stroke="#000" stroke-width="0.25" font-weight="normal" text-anchor="start">21500</text>
<line x1="853.50" y1="391.29" x2="856.10" y2="391.29" stroke="#c0c0c0" stroke-width="1"/>
<text x="856.80" y="394.99" font-size="10.40px" fill="#000" stroke="#000" stroke-width="0.25" font-weight="normal" text-anchor="start">22000</text>
<line x1="853.50" y1="377.45" x2="856.10" y2="377.45" stroke="#c0c0c0" stroke-width="1"/>
<text x="856.80" y="381.15" font-size="10.40px" fill="#000" stroke="#000" stroke-width="0.25" font-weight="normal" text-anchor="start">22500</text>
<line x1="853.50" y1="363.91" x2="856.10" y2="363.91" stroke="#c0c0c0" stroke-width="1"/>
<text x="856.80" y="367.61" font-size="10.40px" fill="#000" stroke="#000" stroke-width="0.25" font-weight="normal" text-anchor="start">23000</text>
<line x1="853.50" y1="350.66" x2="856.10" y2="350.66" stroke="#c0c0c0" stroke-width="1"/>
<text x="856.80" y="354.36" font-size="10.40px" fill="#000" stroke="#000" stroke-width="0.25" font-weight="normal" text-anchor="start">23500</text>
<line x1="853.50" y1="337.69" x2="856.10" y2="337.69" stroke="#c0c0c0" stroke-width="1"/>
<text x="856.80" y="341.39" font-size="10.40px" fill="#000" stroke="#000" stroke-width="0.25" font-weight="normal" text-anchor="start">24000</text>
<line x1="853.50" y1="324.99" x2="856.10" y2="324.99" stroke="#c0c0c0" stroke-width="1"/>
<text x="856.80" y="328.69" font-size="10.40px" fill="#000" stroke="#000" stroke-width="0.25" font-weight="normal" text-anchor="start">24500</text>
<line x1="853.50" y1="312.54" x2="856.10" y2="312.54" stroke="#c0c0c0" stroke-width="1"/>
<text x="856.80" y="316.24" font-size="10.40px" fill="#000" stroke="#000" stroke-width="0.25" font-weight="normal" text-anchor="start">25000</text>
<line x1="853.50" y1="300.35" x2="856.10" y2="300.35" stroke="#c0c0c0" stroke-width="1"/>
<text x="856.80" y="304.05" font-size="10.40px" fill="#000" stroke="#000" stroke-width="0.25" font-weight="normal" text-anchor="start">25500</text>
<line x1="853.50" y1="288.38" x2="856.10" y2="288.38" stroke="#c0c0c0" stroke-width="1"/>
<text x="856.80" y="292.08" font-size="10.40px" fill="#000" stroke="#000" stroke-width="0.25" font-weight="normal" text-anchor="start">26000</text>
<line x1="853.50" y1="623.12" x2="855.10" y2="623.12" stroke="#c4c4c4" stroke-width="1"/>
<line x1="853.50" y1="619.05" x2="855.10" y2="619.05" stroke="#c4c4c4" stroke-width="1"/>
<line x1="853.50" y1="615.01" x2="855.10" y2="615.01" stroke="#c4c4c4" stroke-width="1"/>
<line x1="853.50" y1="611.00" x2="855.10" y2="611.00" stroke="#c4c4c4" stroke-width="1"/>
<line x1="853.50" y1="603.05" x2="855.10" y2="603.05" stroke="#c4c4c4" stroke-width="1"/>
<line x1="853.50" y1="599.12" x2="855.10" y2="599.12" stroke="#c4c4c4" stroke-width="1"/>
<line x1="853.50" y1="595.20" x2="855.10" y2="595.20" stroke="#c4c4c4" stroke-width="1"/>
<line x1="853.50" y1="591.32" x2="855.10" y2="591.32" stroke="#c4c4c4" stroke-width="1"/>
<line x1="853.50" y1="583.62" x2="855.10" y2="583.62" stroke="#c4c4c4" stroke-width="1"/>
<line x1="853.50" y1="579.80" x2="855.10" y2="579.80" stroke="#c4c4c4" stroke-width="1"/>
<line x1="853.50" y1="576.01" x2="855.10" y2="576.01" stroke="#c4c4c4" stroke-width="1"/>
<line x1="853.50" y1="572.25" x2="855.10" y2="572.25" stroke="#c4c4c4" stroke-width="1"/>
<line x1="853.50" y1="564.78" x2="855.10" y2="564.78" stroke="#c4c4c4" stroke-width="1"/>
<line x1="853.50" y1="561.08" x2="855.10" y2="561.08" stroke="#c4c4c4" stroke-width="1"/>
<line x1="853.50" y1="557.40" x2="855.10" y2="557.40" stroke="#c4c4c4" stroke-width="1"/>
<line x1="853.50" y1="553.75" x2="855.10" y2="553.75" stroke="#c4c4c4" stroke-width="1"/>
<line x1="853.50" y1="546.50" x2="855.10" y2="546.50" stroke="#c4c4c4" stroke-width="1"/>
<line x1="853.50" y1="542.91" x2="855.10" y2="542.91" stroke="#c4c4c4" stroke-width="1"/>
<line x1="853.50" y1="539.34" x2="855.10" y2="539.34" stroke="#c4c4c4" stroke-width="1"/>
<line x1="853.50" y1="535.79" x2="855.10" y2="535.79" stroke="#c4c4c4" stroke-width="1"/>
<line x1="853.50" y1="528.75" x2="855.10" y2="528.75" stroke="#c4c4c4" stroke-width="1"/>
<line x1="853.50" y1="525.26" x2="855.10" y2="525.26" stroke="#c4c4c4" stroke-width="1"/>
<line x1="853.50" y1="521.78" x2="855.10" y2="521.78" stroke="#c4c4c4" stroke-width="1"/>
<line x1="853.50" y1="518.33" x2="855.10" y2="518.33" stroke="#c4c4c4" stroke-width="1"/>
<line x1="853.50" y1="511.49" x2="855.10" y2="511.49" stroke="#c4c4c4" stroke-width="1"/>
<line x1="853.50" y1="508.10" x2="855.10" y2="508.10" stroke="#c4c4c4" stroke-width="1"/>
<line x1="853.50" y1="504.72" x2="855.10" y2="504.72" stroke="#c4c4c4" stroke-width="1"/>
<line x1="853.50" y1="501.36" x2="855.10" y2="501.36" stroke="#c4c4c4" stroke-width="1"/>
<line x1="853.50" y1="494.70" x2="855.10" y2="494.70" stroke="#c4c4c4" stroke-width="1"/>
<line x1="853.50" y1="491.40" x2="855.10" y2="491.40" stroke="#c4c4c4" stroke-width="1"/>
<line x1="853.50" y1="488.12" x2="855.10" y2="488.12" stroke="#c4c4c4" stroke-width="1"/>
<line x1="853.50" y1="484.85" x2="855.10" y2="484.85" stroke="#c4c4c4" stroke-width="1"/>
<line x1="853.50" y1="478.36" x2="855.10" y2="478.36" stroke="#c4c4c4" stroke-width="1"/>
<line x1="853.50" y1="475.15" x2="855.10" y2="475.15" stroke="#c4c4c4" stroke-width="1"/>
<line x1="853.50" y1="471.95" x2="855.10" y2="471.95" stroke="#c4c4c4" stroke-width="1"/>
<line x1="853.50" y1="468.76" x2="855.10" y2="468.76" stroke="#c4c4c4" stroke-width="1"/>
<line x1="853.50" y1="462.44" x2="855.10" y2="462.44" stroke="#c4c4c4" stroke-width="1"/>
<line x1="853.50" y1="459.31" x2="855.10" y2="459.31" stroke="#c4c4c4" stroke-width="1"/>
<line x1="853.50" y1="456.19" x2="855.10" y2="456.19" stroke="#c4c4c4" stroke-width="1"/>
<line x1="853.50" y1="453.09" x2="855.10" y2="453.09" stroke="#c4c4c4" stroke-width="1"/>
<line x1="853.50" y1="446.93" x2="855.10" y2="446.93" stroke="#c4c4c4" stroke-width="1"/>
<line x1="853.50" y1="443.87" x2="855.10" y2="443.87" stroke="#c4c4c4" stroke-width="1"/>
<line x1="853.50" y1="440.83" x2="855.10" y2="440.83" stroke="#c4c4c4" stroke-width="1"/>
<line x1="853.50" y1="437.80" x2="855.10" y2="437.80" stroke="#c4c4c4" stroke-width="1"/>
<line x1="853.50" y1="431.79" x2="855.10" y2="431.79" stroke="#c4c4c4" stroke-width="1"/>
<line x1="853.50" y1="428.81" x2="855.10" y2="428.81" stroke="#c4c4c4" stroke-width="1"/>
<line x1="853.50" y1="425.84" x2="855.10" y2="425.84" stroke="#c4c4c4" stroke-width="1"/>
<line x1="853.50" y1="422.89" x2="855.10" y2="422.89" stroke="#c4c4c4" stroke-width="1"/>
<line x1="853.50" y1="417.02" x2="855.10" y2="417.02" stroke="#c4c4c4" stroke-width="1"/>
<line x1="853.50" y1="414.11" x2="855.10" y2="414.11" stroke="#c4c4c4" stroke-width="1"/>
<line x1="853.50" y1="411.21" x2="855.10" y2="411.21" stroke="#c4c4c4" stroke-width="1"/>
<line x1="853.50" y1="408.32" x2="855.10" y2="408.32" stroke="#c4c4c4" stroke-width="1"/>
<line x1="853.50" y1="402.59" x2="855.10" y2="402.59" stroke="#c4c4c4" stroke-width="1"/>
<line x1="853.50" y1="399.75" x2="855.10" y2="399.75" stroke="#c4c4c4" stroke-width="1"/>
<line x1="853.50" y1="396.91" x2="855.10" y2="396.91" stroke="#c4c4c4" stroke-width="1"/>
<line x1="853.50" y1="394.10" x2="855.10" y2="394.10" stroke="#c4c4c4" stroke-width="1"/>
<line x1="853.50" y1="388.50" x2="855.10" y2="388.50" stroke="#c4c4c4" stroke-width="1"/>
<line x1="853.50" y1="385.71" x2="855.10" y2="385.71" stroke="#c4c4c4" stroke-width="1"/>
<line x1="853.50" y1="382.95" x2="855.10" y2="382.95" stroke="#c4c4c4" stroke-width="1"/>
<line x1="853.50" y1="380.19" x2="855.10" y2="380.19" stroke="#c4c4c4" stroke-width="1"/>
<line x1="853.50" y1="374.71" x2="855.10" y2="374.71" stroke="#c4c4c4" stroke-width="1"/>
<line x1="853.50" y1="371.99" x2="855.10" y2="371.99" stroke="#c4c4c4" stroke-width="1"/>
<line x1="853.50" y1="369.29" x2="855.10" y2="369.29" stroke="#c4c4c4" stroke-width="1"/>
<line x1="853.50" y1="366.59" x2="855.10" y2="366.59" stroke="#c4c4c4" stroke-width="1"/>
<line x1="853.50" y1="361.23" x2="855.10" y2="361.23" stroke="#c4c4c4" stroke-width="1"/>
<line x1="853.50" y1="358.57" x2="855.10" y2="358.57" stroke="#c4c4c4" stroke-width="1"/>
<line x1="853.50" y1="355.92" x2="855.10" y2="355.92" stroke="#c4c4c4" stroke-width="1"/>
<line x1="853.50" y1="353.29" x2="855.10" y2="353.29" stroke="#c4c4c4" stroke-width="1"/>
<line x1="853.50" y1="348.04" x2="855.10" y2="348.04" stroke="#c4c4c4" stroke-width="1"/>
<line x1="853.50" y1="345.44" x2="855.10" y2="345.44" stroke="#c4c4c4" stroke-width="1"/>
<line x1="853.50" y1="342.84" x2="855.10" y2="342.84" stroke="#c4c4c4" stroke-width="1"/>
<line x1="853.50" y1="340.26" x2="855.10" y2="340.26" stroke="#c4c4c4" stroke-width="1"/>
<line x1="853.50" y1="335.13" x2="855.10" y2="335.13" stroke="#c4c4c4" stroke-width="1"/>
<line x1="853.50" y1="332.58" x2="855.10" y2="332.58" stroke="#c4c4c4" stroke-width="1"/>
<line x1="853.50" y1="330.04" x2="855.10" y2="330.04" stroke="#c4c4c4" stroke-width="1"/>
<line x1="853.50" y1="327.51" x2="855.10" y2="327.51" stroke="#c4c4c4" stroke-width="1"/>
<line x1="853.50" y1="322.48" x2="855.10" y2="322.48" stroke="#c4c4c4" stroke-width="1"/>
<line x1="853.50" y1="319.98" x2="855.10" y2="319.98" stroke="#c4c4c4" stroke-width="1"/>
<line x1="853.50" y1="317.49" x2="855.10" y2="317.49" stroke="#c4c4c4" stroke-width="1"/>
<line x1="853.50" y1="315.01" x2="855.10" y2="315.01" stroke="#c4c4c4" stroke-width="1"/>
<line x1="853.50" y1="310.08" x2="855.10" y2="310.08" stroke="#c4c4c4" stroke-width="1"/>
<line x1="853.50" y1="307.64" x2="855.10" y2="307.64" stroke="#c4c4c4" stroke-width="1"/>
<line x1="853.50" y1="305.20" x2="855.10" y2="305.20" stroke="#c4c4c4" stroke-width="1"/>
<line x1="853.50" y1="302.77" x2="855.10" y2="302.77" stroke="#c4c4c4" stroke-width="1"/>
<line x1="853.50" y1="297.93" x2="855.10" y2="297.93" stroke="#c4c4c4" stroke-width="1"/>
<line x1="853.50" y1="295.53" x2="855.10" y2="295.53" stroke="#c4c4c4" stroke-width="1"/>
<line x1="853.50" y1="293.14" x2="855.10" y2="293.14" stroke="#c4c4c4" stroke-width="1"/>
<line x1="853.50" y1="290.76" x2="855.10" y2="290.76" stroke="#c4c4c4" stroke-width="1"/>
<line x1="853.50" y1="286.02" x2="855.10" y2="286.02" stroke="#c4c4c4" stroke-width="1"/>
<line x1="853.50" y1="283.66" x2="855.10" y2="283.66" stroke="#c4c4c4" stroke-width="1"/>
<line x1="853.50" y1="658.70" x2="856.10" y2="658.70" stroke="#c0c0c0" stroke-width="1"/>
<text x="857.00" y="662.40" font-size="10.40px" fill="#000" stroke="#000" stroke-width="0.25" font-weight="normal" text-anchor="start">90</text>
<line x1="853.50" y1="680.70" x2="856.10" y2="680.70" stroke="#c0c0c0" stroke-width="1"/>
<text x="857.00" y="684.40" font-size="10.40px" fill="#000" stroke="#000" stroke-width="0.25" font-weight="normal" text-anchor="start">70</text>
<line x1="853.50" y1="702.50" x2="856.10" y2="702.50" stroke="#c0c0c0" stroke-width="1"/>
<text x="857.00" y="706.20" font-size="10.40px" fill="#000" stroke="#000" stroke-width="0.25" font-weight="normal" text-anchor="start">50</text>
<line x1="853.50" y1="724.90" x2="856.10" y2="724.90" stroke="#c0c0c0" stroke-width="1"/>
<text x="857.00" y="728.60" font-size="10.40px" fill="#000" stroke="#000" stroke-width="0.25" font-weight="normal" text-anchor="start">30</text>
<line x1="853.50" y1="746.90" x2="856.10" y2="746.90" stroke="#c0c0c0" stroke-width="1"/>
<text x="857.00" y="750.60" font-size="10.40px" fill="#000" stroke="#000" stroke-width="0.25" font-weight="normal" text-anchor="start">10</text>
<line x1="853.50" y1="757.88" x2="855.10" y2="757.88" stroke="#c4c4c4" stroke-width="1"/>
<line x1="853.50" y1="736.12" x2="855.10" y2="736.12" stroke="#c4c4c4" stroke-width="1"/>
<line x1="853.50" y1="714.38" x2="855.10" y2="714.38" stroke="#c4c4c4" stroke-width="1"/>
<line x1="853.50" y1="692.62" x2="855.10" y2="692.62" stroke="#c4c4c4" stroke-width="1"/>
<line x1="853.50" y1="670.88" x2="855.10" y2="670.88" stroke="#c4c4c4" stroke-width="1"/>
<line x1="853.50" y1="649.12" x2="855.10" y2="649.12" stroke="#c4c4c4" stroke-width="1"/>
<line x1="853.50" y1="781.60" x2="856.10" y2="781.60" stroke="#c0c0c0" stroke-width="1"/>
<text x="862.50" y="785.30" font-size="10.40px" fill="#000" stroke="#000" stroke-width="0.25" font-weight="normal" text-anchor="start">800</text>
<line x1="853.50" y1="797.40" x2="856.10" y2="797.40" stroke="#c0c0c0" stroke-width="1"/>
<text x="862.50" y="801.10" font-size="10.40px" fill="#000" stroke="#000" stroke-width="0.25" font-weight="normal" text-anchor="start">600</text>
<line x1="853.50" y1="814.80" x2="856.10" y2="814.80" stroke="#c0c0c0" stroke-width="1"/>
<text x="862.50" y="818.50" font-size="10.40px" fill="#000" stroke="#000" stroke-width="0.25" font-weight="normal" text-anchor="start">400</text>
<line x1="853.50" y1="831.20" x2="856.10" y2="831.20" stroke="#c0c0c0" stroke-width="1"/>
<text x="862.50" y="834.90" font-size="10.40px" fill="#000" stroke="#000" stroke-width="0.25" font-weight="normal" text-anchor="start">200</text>
<line x1="853.50" y1="847.60" x2="856.10" y2="847.60" stroke="#c0c0c0" stroke-width="1"/>
<text x="874.00" y="851.30" font-size="10.40px" fill="#000" stroke="#000" stroke-width="0.25" font-weight="normal" text-anchor="start">0</text>
<line x1="853.50" y1="864.00" x2="856.10" y2="864.00" stroke="#c0c0c0" stroke-width="1"/>
<text x="859.00" y="867.70" font-size="10.40px" fill="#000" stroke="#000" stroke-width="0.25" font-weight="normal" text-anchor="start">-200</text>
<line x1="853.50" y1="879.90" x2="856.10" y2="879.90" stroke="#c0c0c0" stroke-width="1"/>
<text x="859.00" y="883.60" font-size="10.40px" fill="#000" stroke="#000" stroke-width="0.25" font-weight="normal" text-anchor="start">-400</text>
<line x1="853.50" y1="888.70" x2="855.10" y2="888.70" stroke="#c4c4c4" stroke-width="1"/>
<line x1="853.50" y1="872.26" x2="855.10" y2="872.26" stroke="#c4c4c4" stroke-width="1"/>
<line x1="853.50" y1="855.82" x2="855.10" y2="855.82" stroke="#c4c4c4" stroke-width="1"/>
<line x1="853.50" y1="839.38" x2="855.10" y2="839.38" stroke="#c4c4c4" stroke-width="1"/>
<line x1="853.50" y1="822.94" x2="855.10" y2="822.94" stroke="#c4c4c4" stroke-width="1"/>
<line x1="853.50" y1="806.50" x2="855.10" y2="806.50" stroke="#c4c4c4" stroke-width="1"/>
<line x1="853.50" y1="790.06" x2="855.10" y2="790.06" stroke="#c4c4c4" stroke-width="1"/>
<line x1="853.50" y1="773.62" x2="855.10" y2="773.62" stroke="#c4c4c4" stroke-width="1"/>
<text x="26.00" y="638.30" font-size="10.20px" fill="#000" stroke="#000" stroke-width="0.25" font-weight="normal" text-anchor="middle">A</text>
<text x="44.25" y="638.30" font-size="10.20px" fill="#000" stroke="#000" stroke-width="0.25" font-weight="normal" text-anchor="middle">S</text>
<text x="58.00" y="638.30" font-size="10.20px" fill="#000" stroke="#000" stroke-width="0.25" font-weight="normal" text-anchor="middle">O</text>
<text x="72.50" y="638.30" font-size="10.20px" fill="#000" stroke="#000" stroke-width="0.25" font-weight="normal" text-anchor="middle">N</text>
<text x="90.50" y="638.30" font-size="10.20px" fill="#000" stroke="#000" stroke-width="0.25" font-weight="normal" text-anchor="middle">D</text>
<text x="103.00" y="638.00" font-size="11.50px" fill="#000" stroke="#000" stroke-width="0.25" font-weight="bold" text-anchor="middle">22</text>
<text x="121.75" y="638.30" font-size="10.20px" fill="#000" stroke="#000" stroke-width="0.25" font-weight="normal" text-anchor="middle">F</text>
<text x="137.50" y="638.30" font-size="10.20px" fill="#000" stroke="#000" stroke-width="0.25" font-weight="normal" text-anchor="middle">M</text>
<text x="151.75" y="638.30" font-size="10.20px" fill="#000" stroke="#000" stroke-width="0.25" font-weight="normal" text-anchor="middle">A</text>
<text x="165.75" y="638.30" font-size="10.20px" fill="#000" stroke="#000" stroke-width="0.25" font-weight="normal" text-anchor="middle">M</text>
<text x="184.25" y="638.30" font-size="10.20px" fill="#000" stroke="#000" stroke-width="0.25" font-weight="normal" text-anchor="middle">J</text>
<text x="197.50" y="638.30" font-size="10.20px" fill="#000" stroke="#000" stroke-width="0.25" font-weight="normal" text-anchor="middle">J</text>
<text x="212.50" y="638.30" font-size="10.20px" fill="#000" stroke="#000" stroke-width="0.25" font-weight="normal" text-anchor="middle">A</text>
<text x="231.00" y="638.30" font-size="10.20px" fill="#000" stroke="#000" stroke-width="0.25" font-weight="normal" text-anchor="middle">S</text>
<text x="244.75" y="638.30" font-size="10.20px" fill="#000" stroke="#000" stroke-width="0.25" font-weight="normal" text-anchor="middle">O</text>
<text x="263.50" y="638.30" font-size="10.20px" fill="#000" stroke="#000" stroke-width="0.25" font-weight="normal" text-anchor="middle">N</text>
<text x="277.25" y="638.30" font-size="10.20px" fill="#000" stroke="#000" stroke-width="0.25" font-weight="normal" text-anchor="middle">D</text>
<text x="289.25" y="638.00" font-size="11.50px" fill="#000" stroke="#000" stroke-width="0.25" font-weight="bold" text-anchor="middle">23</text>
<text x="308.50" y="638.30" font-size="10.20px" fill="#000" stroke="#000" stroke-width="0.25" font-weight="normal" text-anchor="middle">F</text>
<text x="324.25" y="638.30" font-size="10.20px" fill="#000" stroke="#000" stroke-width="0.25" font-weight="normal" text-anchor="middle">M</text>
<text x="338.50" y="638.30" font-size="10.20px" fill="#000" stroke="#000" stroke-width="0.25" font-weight="normal" text-anchor="middle">A</text>
<text x="352.75" y="638.30" font-size="10.20px" fill="#000" stroke="#000" stroke-width="0.25" font-weight="normal" text-anchor="middle">M</text>
<text x="369.75" y="638.30" font-size="10.20px" fill="#000" stroke="#000" stroke-width="0.25" font-weight="normal" text-anchor="middle">J</text>
<text x="384.00" y="638.30" font-size="10.20px" fill="#000" stroke="#000" stroke-width="0.25" font-weight="normal" text-anchor="middle">J</text>
<text x="402.75" y="638.30" font-size="10.20px" fill="#000" stroke="#000" stroke-width="0.25" font-weight="normal" text-anchor="middle">A</text>
<text x="417.25" y="638.30" font-size="10.20px" fill="#000" stroke="#000" stroke-width="0.25" font-weight="normal" text-anchor="middle">S</text>
<text x="431.00" y="638.30" font-size="10.20px" fill="#000" stroke="#000" stroke-width="0.25" font-weight="normal" text-anchor="middle">O</text>
<text x="449.25" y="638.30" font-size="10.20px" fill="#000" stroke="#000" stroke-width="0.25" font-weight="normal" text-anchor="middle">N</text>
<text x="464.00" y="638.30" font-size="10.20px" fill="#000" stroke="#000" stroke-width="0.25" font-weight="normal" text-anchor="middle">D</text>
<text x="477.75" y="638.00" font-size="11.50px" fill="#000" stroke="#000" stroke-width="0.25" font-weight="bold" text-anchor="middle">24</text>
<text x="495.75" y="638.30" font-size="10.20px" fill="#000" stroke="#000" stroke-width="0.25" font-weight="normal" text-anchor="middle">F</text>
<text x="510.75" y="638.30" font-size="10.20px" fill="#000" stroke="#000" stroke-width="0.25" font-weight="normal" text-anchor="middle">M</text>
<text x="525.00" y="638.30" font-size="10.20px" fill="#000" stroke="#000" stroke-width="0.25" font-weight="normal" text-anchor="middle">A</text>
<text x="543.25" y="638.30" font-size="10.20px" fill="#000" stroke="#000" stroke-width="0.25" font-weight="normal" text-anchor="middle">M</text>
<text x="557.00" y="638.30" font-size="10.20px" fill="#000" stroke="#000" stroke-width="0.25" font-weight="normal" text-anchor="middle">J</text>
<text x="572.00" y="638.30" font-size="10.20px" fill="#000" stroke="#000" stroke-width="0.25" font-weight="normal" text-anchor="middle">J</text>
<text x="589.50" y="638.30" font-size="10.20px" fill="#000" stroke="#000" stroke-width="0.25" font-weight="normal" text-anchor="middle">A</text>
<text x="604.00" y="638.30" font-size="10.20px" fill="#000" stroke="#000" stroke-width="0.25" font-weight="normal" text-anchor="middle">S</text>
<text x="622.00" y="638.30" font-size="10.20px" fill="#000" stroke="#000" stroke-width="0.25" font-weight="normal" text-anchor="middle">O</text>
<text x="636.25" y="638.30" font-size="10.20px" fill="#000" stroke="#000" stroke-width="0.25" font-weight="normal" text-anchor="middle">N</text>
<text x="650.25" y="638.30" font-size="10.20px" fill="#000" stroke="#000" stroke-width="0.25" font-weight="normal" text-anchor="middle">D</text>
<text x="667.00" y="638.00" font-size="11.50px" fill="#000" stroke="#000" stroke-width="0.25" font-weight="bold" text-anchor="middle">25</text>
<text x="681.00" y="638.30" font-size="10.20px" fill="#000" stroke="#000" stroke-width="0.25" font-weight="normal" text-anchor="middle">F</text>
<text x="697.50" y="638.30" font-size="10.20px" fill="#000" stroke="#000" stroke-width="0.25" font-weight="normal" text-anchor="middle">M</text>
<text x="711.75" y="638.30" font-size="10.20px" fill="#000" stroke="#000" stroke-width="0.25" font-weight="normal" text-anchor="middle">A</text>
<text x="729.75" y="638.30" font-size="10.20px" fill="#000" stroke="#000" stroke-width="0.25" font-weight="normal" text-anchor="middle">M</text>
<text x="743.50" y="638.30" font-size="10.20px" fill="#000" stroke="#000" stroke-width="0.25" font-weight="normal" text-anchor="middle">J</text>
<text x="761.75" y="638.30" font-size="10.20px" fill="#000" stroke="#000" stroke-width="0.25" font-weight="normal" text-anchor="middle">J</text>
<text x="776.00" y="638.30" font-size="10.20px" fill="#000" stroke="#000" stroke-width="0.25" font-weight="normal" text-anchor="middle">A</text>
<text x="791.25" y="638.30" font-size="10.20px" fill="#000" stroke="#000" stroke-width="0.25" font-weight="normal" text-anchor="middle">S</text>
<text x="808.50" y="638.30" font-size="10.20px" fill="#000" stroke="#000" stroke-width="0.25" font-weight="normal" text-anchor="middle">O</text>
<text x="823.00" y="638.30" font-size="10.20px" fill="#000" stroke="#000" stroke-width="0.25" font-weight="normal" text-anchor="middle">N</text>
<text x="837.25" y="638.30" font-size="10.20px" fill="#000" stroke="#000" stroke-width="0.25" font-weight="normal" text-anchor="middle">D</text>
<path d="M18.10 627.50 v2 M21.71 627.50 v2 M25.31 627.50 v2 M28.92 627.50 v2 M32.53 627.50 v2 M36.14 627.50 v2 M39.74 627.50 v2 M43.35 627.50 v2 M46.96 627.50 v2 M50.56 627.50 v2 M54.17 627.50 v2 M57.78 627.50 v2 M61.38 627.50 v2 M64.99 627.50 v2 M68.60 627.50 v2 M72.21 627.50 v2 M75.81 627.50 v2 M79.42 627.50 v2 M83.03 627.50 v2 M86.63 627.50 v2 M90.24 627.50 v2 M93.85 627.50 v2 M97.45 627.50 v2 M101.06 627.50 v2 M104.67 627.50 v2 M108.28 627.50 v2 M111.88 627.50 v2 M115.49 627.50 v2 M119.10 627.50 v2 M122.70 627.50 v2 M126.31 627.50 v2 M129.92 627.50 v2 M133.52 627.50 v2 M137.13 627.50 v2 M140.74 627.50 v2 M144.34 627.50 v2 M147.95 627.50 v2 M151.56 627.50 v2 M155.17 627.50 v2 M158.77 627.50 v2 M162.38 627.50 v2 M165.99 627.50 v2 M169.59 627.50 v2 M173.20 627.50 v2 M176.81 627.50 v2 M180.41 627.50 v2 M184.02 627.50 v2 M187.63 627.50 v2 M191.24 627.50 v2 M194.84 627.50 v2 M198.45 627.50 v2 M202.06 627.50 v2 M205.66 627.50 v2 M209.27 627.50 v2 M212.88 627.50 v2 M216.49 627.50 v2 M220.09 627.50 v2 M223.70 627.50 v2 M227.31 627.50 v2 M230.91 627.50 v2 M234.52 627.50 v2 M238.13 627.50 v2 M241.73 627.50 v2 M245.34 627.50 v2 M248.95 627.50 v2 M252.56 627.50 v2 M256.16 627.50 v2 M259.77 627.50 v2 M263.38 627.50 v2 M266.98 627.50 v2 M270.59 627.50 v2 M274.20 627.50 v2 M277.80 627.50 v2 M281.41 627.50 v2 M285.02 627.50 v2 M288.63 627.50 v2 M292.23 627.50 v2 M295.84 627.50 v2 M299.45 627.50 v2 M303.05 627.50 v2 M306.66 627.50 v2 M310.27 627.50 v2 M313.87 627.50 v2 M317.48 627.50 v2 M321.09 627.50 v2 M324.70 627.50 v2 M328.30 627.50 v2 M331.91 627.50 v2 M335.52 627.50 v2 M339.12 627.50 v2 M342.73 627.50 v2 M346.34 627.50 v2 M349.94 627.50 v2 M353.55 627.50 v2 M357.16 627.50 v2 M360.77 627.50 v2 M364.37 627.50 v2 M367.98 627.50 v2 M371.59 627.50 v2 M375.19 627.50 v2 M378.80 627.50 v2 M382.41 627.50 v2 M386.01 627.50 v2 M389.62 627.50 v2 M393.23 627.50 v2 M396.84 627.50 v2 M400.44 627.50 v2 M404.05 627.50 v2 M407.66 627.50 v2 M411.26 627.50 v2 M414.87 627.50 v2 M418.48 627.50 v2 M422.08 627.50 v2 M425.69 627.50 v2 M429.30 627.50 v2 M432.91 627.50 v2 M436.51 627.50 v2 M440.12 627.50 v2 M443.73 627.50 v2 M447.33 627.50 v2 M450.94 627.50 v2 M454.55 627.50 v2 M458.15 627.50 v2 M461.76 627.50 v2 M465.37 627.50 v2 M468.98 627.50 v2 M472.58 627.50 v2 M476.19 627.50 v2 M479.80 627.50 v2 M483.40 627.50 v2 M487.01 627.50 v2 M490.62 627.50 v2 M494.22 627.50 v2 M497.83 627.50 v2 M501.44 627.50 v2 M505.05 627.50 v2 M508.65 627.50 v2 M512.26 627.50 v2 M515.87 627.50 v2 M519.47 627.50 v2 M523.08 627.50 v2 M526.69 627.50 v2 M530.29 627.50 v2 M533.90 627.50 v2 M537.51 627.50 v2 M541.12 627.50 v2 M544.72 627.50 v2 M548.33 627.50 v2 M551.94 627.50 v2 M555.54 627.50 v2 M559.15 627.50 v2 M562.76 627.50 v2 M566.36 627.50 v2 M569.97 627.50 v2 M573.58 627.50 v2 M577.19 627.50 v2 M580.79 627.50 v2 M584.40 627.50 v2 M588.01 627.50 v2 M591.61 627.50 v2 M595.22 627.50 v2 M598.83 627.50 v2 M602.43 627.50 v2 M606.04 627.50 v2 M609.65 627.50 v2 M613.26 627.50 v2 M616.86 627.50 v2 M620.47 627.50 v2 M624.08 627.50 v2 M627.68 627.50 v2 M631.29 627.50 v2 M634.90 627.50 v2 M638.50 627.50 v2 M642.11 627.50 v2 M645.72 627.50 v2 M649.33 627.50 v2 M652.93 627.50 v2 M656.54 627.50 v2 M660.15 627.50 v2 M663.75 627.50 v2 M667.36 627.50 v2 M670.97 627.50 v2 M674.57 627.50 v2 M678.18 627.50 v2 M681.79 627.50 v2 M685.40 627.50 v2 M689.00 627.50 v2 M692.61 627.50 v2 M696.22 627.50 v2 M699.82 627.50 v2 M703.43 627.50 v2 M707.04 627.50 v2 M710.64 627.50 v2 M714.25 627.50 v2 M717.86 627.50 v2 M721.47 627.50 v2 M725.07 627.50 v2 M728.68 627.50 v2 M732.29 627.50 v2 M735.89 627.50 v2 M739.50 627.50 v2 M743.11 627.50 v2 M746.71 627.50 v2 M750.32 627.50 v2 M753.93 627.50 v2 M757.54 627.50 v2 M761.14 627.50 v2 M764.75 627.50 v2 M768.36 627.50 v2 M771.96 627.50 v2 M775.57 627.50 v2 M779.18 627.50 v2 M782.78 627.50 v2 M786.39 627.50 v2 M790.00 627.50 v2 M793.61 627.50 v2 M797.21 627.50 v2 M800.82 627.50 v2 M804.43 627.50 v2 M808.03 627.50 v2 M811.64 627.50 v2 M815.25 627.50 v2 M818.85 627.50 v2 M822.46 627.50 v2 M826.07 627.50 v2 M829.68 627.50 v2 M833.28 627.50 v2 M836.89 627.50 v2 M840.50 627.50 v2 M844.10 627.50 v2 M847.71 627.50 v2 M851.32 627.50 v2 M854.92 627.50 v2" stroke="#c8c8c8" stroke-width="1" fill="none"/>
<text x="26.00" y="898.30" font-size="10.20px" fill="#000" stroke="#000" stroke-width="0.25" font-weight="normal" text-anchor="middle">A</text>
<text x="44.25" y="898.30" font-size="10.20px" fill="#000" stroke="#000" stroke-width="0.25" font-weight="normal" text-anchor="middle">S</text>
<text x="58.00" y="898.30" font-size="10.20px" fill="#000" stroke="#000" stroke-width="0.25" font-weight="normal" text-anchor="middle">O</text>
<text x="72.50" y="898.30" font-size="10.20px" fill="#000" stroke="#000" stroke-width="0.25" font-weight="normal" text-anchor="middle">N</text>
<text x="90.50" y="898.30" font-size="10.20px" fill="#000" stroke="#000" stroke-width="0.25" font-weight="normal" text-anchor="middle">D</text>
<text x="103.00" y="898.00" font-size="11.50px" fill="#000" stroke="#000" stroke-width="0.25" font-weight="bold" text-anchor="middle">22</text>
<text x="121.75" y="898.30" font-size="10.20px" fill="#000" stroke="#000" stroke-width="0.25" font-weight="normal" text-anchor="middle">F</text>
<text x="137.50" y="898.30" font-size="10.20px" fill="#000" stroke="#000" stroke-width="0.25" font-weight="normal" text-anchor="middle">M</text>
<text x="151.75" y="898.30" font-size="10.20px" fill="#000" stroke="#000" stroke-width="0.25" font-weight="normal" text-anchor="middle">A</text>
<text x="165.75" y="898.30" font-size="10.20px" fill="#000" stroke="#000" stroke-width="0.25" font-weight="normal" text-anchor="middle">M</text>
<text x="184.25" y="898.30" font-size="10.20px" fill="#000" stroke="#000" stroke-width="0.25" font-weight="normal" text-anchor="middle">J</text>
<text x="197.50" y="898.30" font-size="10.20px" fill="#000" stroke="#000" stroke-width="0.25" font-weight="normal" text-anchor="middle">J</text>
<text x="212.50" y="898.30" font-size="10.20px" fill="#000" stroke="#000" stroke-width="0.25" font-weight="normal" text-anchor="middle">A</text>
<text x="231.00" y="898.30" font-size="10.20px" fill="#000" stroke="#000" stroke-width="0.25" font-weight="normal" text-anchor="middle">S</text>
<text x="244.75" y="898.30" font-size="10.20px" fill="#000" stroke="#000" stroke-width="0.25" font-weight="normal" text-anchor="middle">O</text>
<text x="263.50" y="898.30" font-size="10.20px" fill="#000" stroke="#000" stroke-width="0.25" font-weight="normal" text-anchor="middle">N</text>
<text x="277.25" y="898.30" font-size="10.20px" fill="#000" stroke="#000" stroke-width="0.25" font-weight="normal" text-anchor="middle">D</text>
<text x="289.25" y="898.00" font-size="11.50px" fill="#000" stroke="#000" stroke-width="0.25" font-weight="bold" text-anchor="middle">23</text>
<text x="308.50" y="898.30" font-size="10.20px" fill="#000" stroke="#000" stroke-width="0.25" font-weight="normal" text-anchor="middle">F</text>
<text x="324.25" y="898.30" font-size="10.20px" fill="#000" stroke="#000" stroke-width="0.25" font-weight="normal" text-anchor="middle">M</text>
<text x="338.50" y="898.30" font-size="10.20px" fill="#000" stroke="#000" stroke-width="0.25" font-weight="normal" text-anchor="middle">A</text>
<text x="352.75" y="898.30" font-size="10.20px" fill="#000" stroke="#000" stroke-width="0.25" font-weight="normal" text-anchor="middle">M</text>
<text x="369.75" y="898.30" font-size="10.20px" fill="#000" stroke="#000" stroke-width="0.25" font-weight="normal" text-anchor="middle">J</text>
<text x="384.00" y="898.30" font-size="10.20px" fill="#000" stroke="#000" stroke-width="0.25" font-weight="normal" text-anchor="middle">J</text>
<text x="402.75" y="898.30" font-size="10.20px" fill="#000" stroke="#000" stroke-width="0.25" font-weight="normal" text-anchor="middle">A</text>
<text x="417.25" y="898.30" font-size="10.20px" fill="#000" stroke="#000" stroke-width="0.25" font-weight="normal" text-anchor="middle">S</text>
<text x="431.00" y="898.30" font-size="10.20px" fill="#000" stroke="#000" stroke-width="0.25" font-weight="normal" text-anchor="middle">O</text>
<text x="449.25" y="898.30" font-size="10.20px" fill="#000" stroke="#000" stroke-width="0.25" font-weight="normal" text-anchor="middle">N</text>
<text x="464.00" y="898.30" font-size="10.20px" fill="#000" stroke="#000" stroke-width="0.25" font-weight="normal" text-anchor="middle">D</text>
<text x="477.75" y="898.00" font-size="11.50px" fill="#000" stroke="#000" stroke-width="0.25" font-weight="bold" text-anchor="middle">24</text>
<text x="495.75" y="898.30" font-size="10.20px" fill="#000" stroke="#000" stroke-width="0.25" font-weight="normal" text-anchor="middle">F</text>
<text x="510.75" y="898.30" font-size="10.20px" fill="#000" stroke="#000" stroke-width="0.25" font-weight="normal" text-anchor="middle">M</text>
<text x="525.00" y="898.30" font-size="10.20px" fill="#000" stroke="#000" stroke-width="0.25" font-weight="normal" text-anchor="middle">A</text>
<text x="543.25" y="898.30" font-size="10.20px" fill="#000" stroke="#000" stroke-width="0.25" font-weight="normal" text-anchor="middle">M</text>
<text x="557.00" y="898.30" font-size="10.20px" fill="#000" stroke="#000" stroke-width="0.25" font-weight="normal" text-anchor="middle">J</text>
<text x="572.00" y="898.30" font-size="10.20px" fill="#000" stroke="#000" stroke-width="0.25" font-weight="normal" text-anchor="middle">J</text>
<text x="589.50" y="898.30" font-size="10.20px" fill="#000" stroke="#000" stroke-width="0.25" font-weight="normal" text-anchor="middle">A</text>
<text x="604.00" y="898.30" font-size="10.20px" fill="#000" stroke="#000" stroke-width="0.25" font-weight="normal" text-anchor="middle">S</text>
<text x="622.00" y="898.30" font-size="10.20px" fill="#000" stroke="#000" stroke-width="0.25" font-weight="normal" text-anchor="middle">O</text>
<text x="636.25" y="898.30" font-size="10.20px" fill="#000" stroke="#000" stroke-width="0.25" font-weight="normal" text-anchor="middle">N</text>
<text x="650.25" y="898.30" font-size="10.20px" fill="#000" stroke="#000" stroke-width="0.25" font-weight="normal" text-anchor="middle">D</text>
<text x="667.00" y="898.00" font-size="11.50px" fill="#000" stroke="#000" stroke-width="0.25" font-weight="bold" text-anchor="middle">25</text>
<text x="681.00" y="898.30" font-size="10.20px" fill="#000" stroke="#000" stroke-width="0.25" font-weight="normal" text-anchor="middle">F</text>
<text x="697.50" y="898.30" font-size="10.20px" fill="#000" stroke="#000" stroke-width="0.25" font-weight="normal" text-anchor="middle">M</text>
<text x="711.75" y="898.30" font-size="10.20px" fill="#000" stroke="#000" stroke-width="0.25" font-weight="normal" text-anchor="middle">A</text>
<text x="729.75" y="898.30" font-size="10.20px" fill="#000" stroke="#000" stroke-width="0.25" font-weight="normal" text-anchor="middle">M</text>
<text x="743.50" y="898.30" font-size="10.20px" fill="#000" stroke="#000" stroke-width="0.25" font-weight="normal" text-anchor="middle">J</text>
<text x="761.75" y="898.30" font-size="10.20px" fill="#000" stroke="#000" stroke-width="0.25" font-weight="normal" text-anchor="middle">J</text>
<text x="776.00" y="898.30" font-size="10.20px" fill="#000" stroke="#000" stroke-width="0.25" font-weight="normal" text-anchor="middle">A</text>
<text x="791.25" y="898.30" font-size="10.20px" fill="#000" stroke="#000" stroke-width="0.25" font-weight="normal" text-anchor="middle">S</text>
<text x="808.50" y="898.30" font-size="10.20px" fill="#000" stroke="#000" stroke-width="0.25" font-weight="normal" text-anchor="middle">O</text>
<text x="823.00" y="898.30" font-size="10.20px" fill="#000" stroke="#000" stroke-width="0.25" font-weight="normal" text-anchor="middle">N</text>
<text x="837.25" y="898.30" font-size="10.20px" fill="#000" stroke="#000" stroke-width="0.25" font-weight="normal" text-anchor="middle">D</text>
<path d="M18.10 887.50 v2 M21.71 887.50 v2 M25.31 887.50 v2 M28.92 887.50 v2 M32.53 887.50 v2 M36.14 887.50 v2 M39.74 887.50 v2 M43.35 887.50 v2 M46.96 887.50 v2 M50.56 887.50 v2 M54.17 887.50 v2 M57.78 887.50 v2 M61.38 887.50 v2 M64.99 887.50 v2 M68.60 887.50 v2 M72.21 887.50 v2 M75.81 887.50 v2 M79.42 887.50 v2 M83.03 887.50 v2 M86.63 887.50 v2 M90.24 887.50 v2 M93.85 887.50 v2 M97.45 887.50 v2 M101.06 887.50 v2 M104.67 887.50 v2 M108.28 887.50 v2 M111.88 887.50 v2 M115.49 887.50 v2 M119.10 887.50 v2 M122.70 887.50 v2 M126.31 887.50 v2 M129.92 887.50 v2 M133.52 887.50 v2 M137.13 887.50 v2 M140.74 887.50 v2 M144.34 887.50 v2 M147.95 887.50 v2 M151.56 887.50 v2 M155.17 887.50 v2 M158.77 887.50 v2 M162.38 887.50 v2 M165.99 887.50 v2 M169.59 887.50 v2 M173.20 887.50 v2 M176.81 887.50 v2 M180.41 887.50 v2 M184.02 887.50 v2 M187.63 887.50 v2 M191.24 887.50 v2 M194.84 887.50 v2 M198.45 887.50 v2 M202.06 887.50 v2 M205.66 887.50 v2 M209.27 887.50 v2 M212.88 887.50 v2 M216.49 887.50 v2 M220.09 887.50 v2 M223.70 887.50 v2 M227.31 887.50 v2 M230.91 887.50 v2 M234.52 887.50 v2 M238.13 887.50 v2 M241.73 887.50 v2 M245.34 887.50 v2 M248.95 887.50 v2 M252.56 887.50 v2 M256.16 887.50 v2 M259.77 887.50 v2 M263.38 887.50 v2 M266.98 887.50 v2 M270.59 887.50 v2 M274.20 887.50 v2 M277.80 887.50 v2 M281.41 887.50 v2 M285.02 887.50 v2 M288.63 887.50 v2 M292.23 887.50 v2 M295.84 887.50 v2 M299.45 887.50 v2 M303.05 887.50 v2 M306.66 887.50 v2 M310.27 887.50 v2 M313.87 887.50 v2 M317.48 887.50 v2 M321.09 887.50 v2 M324.70 887.50 v2 M328.30 887.50 v2 M331.91 887.50 v2 M335.52 887.50 v2 M339.12 887.50 v2 M342.73 887.50 v2 M346.34 887.50 v2 M349.94 887.50 v2 M353.55 887.50 v2 M357.16 887.50 v2 M360.77 887.50 v2 M364.37 887.50 v2 M367.98 887.50 v2 M371.59 887.50 v2 M375.19 887.50 v2 M378.80 887.50 v2 M382.41 887.50 v2 M386.01 887.50 v2 M389.62 887.50 v2 M393.23 887.50 v2 M396.84 887.50 v2 M400.44 887.50 v2 M404.05 887.50 v2 M407.66 887.50 v2 M411.26 887.50 v2 M414.87 887.50 v2 M418.48 887.50 v2 M422.08 887.50 v2 M425.69 887.50 v2 M429.30 887.50 v2 M432.91 887.50 v2 M436.51 887.50 v2 M440.12 887.50 v2 M443.73 887.50 v2 M447.33 887.50 v2 M450.94 887.50 v2 M454.55 887.50 v2 M458.15 887.50 v2 M461.76 887.50 v2 M465.37 887.50 v2 M468.98 887.50 v2 M472.58 887.50 v2 M476.19 887.50 v2 M479.80 887.50 v2 M483.40 887.50 v2 M487.01 887.50 v2 M490.62 887.50 v2 M494.22 887.50 v2 M497.83 887.50 v2 M501.44 887.50 v2 M505.05 887.50 v2 M508.65 887.50 v2 M512.26 887.50 v2 M515.87 887.50 v2 M519.47 887.50 v2 M523.08 887.50 v2 M526.69 887.50 v2 M530.29 887.50 v2 M533.90 887.50 v2 M537.51 887.50 v2 M541.12 887.50 v2 M544.72 887.50 v2 M548.33 887.50 v2 M551.94 887.50 v2 M555.54 887.50 v2 M559.15 887.50 v2 M562.76 887.50 v2 M566.36 887.50 v2 M569.97 887.50 v2 M573.58 887.50 v2 M577.19 887.50 v2 M580.79 887.50 v2 M584.40 887.50 v2 M588.01 887.50 v2 M591.61 887.50 v2 M595.22 887.50 v2 M598.83 887.50 v2 M602.43 887.50 v2 M606.04 887.50 v2 M609.65 887.50 v2 M613.26 887.50 v2 M616.86 887.50 v2 M620.47 887.50 v2 M624.08 887.50 v2 M627.68 887.50 v2 M631.29 887.50 v2 M634.90 887.50 v2 M638.50 887.50 v2 M642.11 887.50 v2 M645.72 887.50 v2 M649.33 887.50 v2 M652.93 887.50 v2 M656.54 887.50 v2 M660.15 887.50 v2 M663.75 887.50 v2 M667.36 887.50 v2 M670.97 887.50 v2 M674.57 887.50 v2 M678.18 887.50 v2 M681.79 887.50 v2 M685.40 887.50 v2 M689.00 887.50 v2 M692.61 887.50 v2 M696.22 887.50 v2 M699.82 887.50 v2 M703.43 887.50 v2 M707.04 887.50 v2 M710.64 887.50 v2 M714.25 887.50 v2 M717.86 887.50 v2 M721.47 887.50 v2 M725.07 887.50 v2 M728.68 887.50 v2 M732.29 887.50 v2 M735.89 887.50 v2 M739.50 887.50 v2 M743.11 887.50 v2 M746.71 887.50 v2 M750.32 887.50 v2 M753.93 887.50 v2 M757.54 887.50 v2 M761.14 887.50 v2 M764.75 887.50 v2 M768.36 887.50 v2 M771.96 887.50 v2 M775.57 887.50 v2 M779.18 887.50 v2 M782.78 887.50 v2 M786.39 887.50 v2 M790.00 887.50 v2 M793.61 887.50 v2 M797.21 887.50 v2 M800.82 887.50 v2 M804.43 887.50 v2 M808.03 887.50 v2 M811.64 887.50 v2 M815.25 887.50 v2 M818.85 887.50 v2 M822.46 887.50 v2 M826.07 887.50 v2 M829.68 887.50 v2 M833.28 887.50 v2 M836.89 887.50 v2 M840.50 887.50 v2 M844.10 887.50 v2 M847.71 887.50 v2 M851.32 887.50 v2 M854.92 887.50 v2" stroke="#c8c8c8" stroke-width="1" fill="none"/>
<path d="M851.40 81.90 L856.00 76.75 L890.80 76.75 L890.80 87.05 L856.00 87.05 Z" fill="#fff" stroke="#14784a" stroke-width="1.3" stroke-linejoin="miter"/>
<text transform="translate(857.40 85.60) scale(0.9997 1)" font-size="10.40px" fill="#000" stroke="#000" stroke-width="0.25" font-weight="normal">100.35</text>
<path d="M851.40 100.80 L856.00 95.65 L884.50 95.65 L884.50 105.95 L856.00 105.95 Z" fill="#fff" stroke="#b8003c" stroke-width="1.3" stroke-linejoin="miter"/>
<text transform="translate(856.00 104.50) scale(1.0182 1)" font-size="10.40px" fill="#000" stroke="#000" stroke-width="0.25" font-weight="normal">99.62</text>
<path d="M851.40 244.60 L856.00 239.45 L884.30 239.45 L884.30 249.75 L856.00 249.75 Z" fill="#fff" stroke="#2222cc" stroke-width="1.3" stroke-linejoin="miter"/>
<path d="M851.40 242.70 L856.00 237.40 L884.30 237.40 L884.30 248.00 L856.00 248.00 Z" fill="#fff" stroke="#000" stroke-width="1.3" stroke-linejoin="miter"/>
<text transform="translate(857.30 246.40) scale(0.9913 1)" font-size="10.40px" fill="#000" stroke="#000" stroke-width="0.25" font-weight="bold">1.089</text>
<path d="M851.40 313.70 L856.00 308.55 L902.40 308.55 L902.40 318.85 L856.00 318.85 Z" fill="#fff" stroke="#aab4bc" stroke-width="1.3" stroke-linejoin="miter"/>
<text transform="translate(856.00 317.40) scale(1.0282 1)" font-size="10.40px" fill="#000" stroke="#000" stroke-width="0.25" font-weight="normal">24973.56</text>
<path d="M851.40 333.20 L856.00 328.05 L902.40 328.05 L902.40 338.35 L856.00 338.35 Z" fill="#fff" stroke="#22228c" stroke-width="1.3" stroke-linejoin="miter"/>
<text transform="translate(856.00 336.90) scale(1.0282 1)" font-size="10.40px" fill="#000" stroke="#000" stroke-width="0.25" font-weight="normal">24182.19</text>
<path d="M851.40 346.70 L856.00 341.55 L902.40 341.55 L902.40 351.85 L856.00 351.85 Z" fill="#fff" stroke="#ff22ee" stroke-width="1.3" stroke-linejoin="miter"/>
<text transform="translate(856.00 350.40) scale(1.0282 1)" font-size="10.40px" fill="#000" stroke="#000" stroke-width="0.25" font-weight="normal">23640.55</text>
<path d="M851.40 427.00 L856.00 421.85 L902.40 421.85 L902.40 432.15 L856.00 432.15 Z" fill="#fff" stroke="#d64560" stroke-width="1.3" stroke-linejoin="miter"/>
<text transform="translate(856.00 430.70) scale(1.0282 1)" font-size="10.40px" fill="#000" stroke="#000" stroke-width="0.25" font-weight="normal">20766.06</text>
<path d="M851.40 295.70 L856.00 290.05 L902.40 290.05 L902.40 301.35 L856.00 301.35 Z" fill="#fff" stroke="#000" stroke-width="1.35" stroke-linejoin="miter"/>
<text transform="translate(856.00 299.40) scale(1.0466 1)" font-size="10.40px" fill="#000" stroke="#000" stroke-width="0.25" font-weight="bold">25709.85</text>
<path d="M851.40 690.30 L856.00 685.15 L884.60 685.15 L884.60 695.45 L856.00 695.45 Z" fill="#fff" stroke="#222" stroke-width="1.3" stroke-linejoin="miter"/>
<text transform="translate(856.30 694.00) scale(1.0182 1)" font-size="10.40px" fill="#000" stroke="#000" stroke-width="0.25" font-weight="normal">60.89</text>
<path d="M851.40 826.20 L856.00 821.05 L896.60 821.05 L896.60 831.35 L856.00 831.35 Z" fill="#fff" stroke="#f01818" stroke-width="1.3" stroke-linejoin="miter"/>
<path d="M851.40 824.50 L856.00 819.35 L896.60 819.35 L896.60 829.65 L856.00 829.65 Z" fill="#fff" stroke="#000" stroke-width="1.35" stroke-linejoin="miter"/>
<text transform="translate(856.30 828.20) scale(1.0241 1)" font-size="10.40px" fill="#000" stroke="#000" stroke-width="0.25" font-weight="normal">278.078</text>
<path d="M851.40 844.50 L856.00 839.35 L890.50 839.35 L890.50 849.65 L856.00 849.65 Z" fill="#fff" stroke="#3c50b4" stroke-width="1.3" stroke-linejoin="miter"/>
<text transform="translate(857.30 848.20) scale(0.9903 1)" font-size="10.40px" fill="#000" stroke="#000" stroke-width="0.25" font-weight="normal">27.786</text>
<line x1="19.00" y1="35.00" x2="28.00" y2="35.00" stroke="#b8003c" stroke-width="2.2"/>
<text transform="translate(31.70 38.80) scale(1.1558 1)" font-size="10.00px" fill="#000" stroke="#000" stroke-width="0.25" font-weight="normal">RRG($CNX500)</text>
<text transform="translate(118.70 38.80) scale(1.2333 1)" font-size="10.00px" fill="#b8003c" stroke="#b8003c" stroke-width="0.25" font-weight="normal">JdK RS-Ratio 99.62</text>
<text transform="translate(231.50 38.80) scale(1.2174 1)" font-size="10.00px" fill="#14784a" stroke="#14784a" stroke-width="0.25" font-weight="normal">JdK RS-Mom 100.35</text>
<rect x="17.10" y="153.00" width="304.90" height="11.50" fill="#fff"/>
<rect x="17.10" y="164.50" width="71.90" height="11.50" fill="#fff"/>
<line x1="19.00" y1="158.60" x2="28.00" y2="158.60" stroke="#000" stroke-width="2.2"/>
<text transform="translate(31.70 162.30) scale(1.3185 1)" font-size="10.00px" fill="#000" stroke="#000" stroke-width="0.25" font-weight="normal">Nifty 50 Index - India/Nifty 500 Index - India 1.089</text>
<line x1="19.00" y1="170.40" x2="28.00" y2="170.40" stroke="#00008b" stroke-width="1.8"/>
<text transform="translate(29.50 174.00) scale(0.9954 1)" font-size="9.70px" fill="#00008b" stroke="#00008b" stroke-width="0.25" font-weight="normal">MA(50) 1.085</text>
<path d="M20.5 277.5v7.5M19.3 279h1.2M20.5 283.5h1.4 M24.5 278.5v8M23.3 280.5h1.2M24.5 285h1.4" stroke="#000" stroke-width="1.1" fill="none"/>
<text transform="translate(31.70 285.60) scale(1.3072 1)" font-size="10.00px" fill="#000" stroke="#000" stroke-width="0.25" font-weight="normal">Nifty 50 Index - India (Weekly) 25709.85</text>
<line x1="19.00" y1="293.70" x2="28.00" y2="293.70" stroke="#00008b" stroke-width="1.8"/>
<text transform="translate(29.50 297.30) scale(0.9913 1)" font-size="9.70px" fill="#00008b" stroke="#00008b" stroke-width="0.25" font-weight="normal">MA(50) 24182.19</text>
<line x1="19.00" y1="304.40" x2="28.00" y2="304.40" stroke="#dd0022" stroke-width="1.8"/>
<text transform="translate(29.50 308.00) scale(0.9807 1)" font-size="9.70px" fill="#cc0022" stroke="#cc0022" stroke-width="0.25" font-weight="normal">MA(200) 20766.06</text>
<path d="M19.5 321 L22.5 314 L24.5 317.5 L26 312.5 L27.5 321 Z" fill="#d8dcdf" stroke="#c4c9cd" stroke-width="0.6"/>
<text transform="translate(29.50 319.30) scale(0.9815 1)" font-size="9.70px" fill="#778088" stroke="#778088" stroke-width="0.25" font-weight="normal">BB(20,2.0) 24235.24 - 24973.56 - 25711.88</text>
<line x1="19.00" y1="326.80" x2="28.00" y2="326.80" stroke="#ff00ff" stroke-width="1.8"/>
<text transform="translate(29.50 330.40) scale(0.9807 1)" font-size="9.70px" fill="#ff00ff" stroke="#ff00ff" stroke-width="0.25" font-weight="normal">MA(100) 23640.55</text>
<path d="M20 339.5v-4M22 339.5v-7M24 339.5v-6M26 339.5v-6.5" stroke="#333" stroke-width="1.6" fill="none"/>
<text transform="translate(29.50 340.40) scale(1.0620 1)" font-size="9.70px" fill="#333" stroke="#333" stroke-width="0.25" font-weight="normal">Volume undef</text>
<path d="M19.5 653.5 L22.3 646.5 L23.6 649 L25.5 644 L27.5 653.5 Z" fill="#6f966f" stroke="#222" stroke-width="0.9"/>
<text transform="translate(31.70 652.20) scale(1.2689 1)" font-size="10.00px" fill="#000" stroke="#000" stroke-width="0.25" font-weight="normal">RSI(14) 60.89</text>
<rect x="18.00" y="766.50" width="250.00" height="11.50" fill="#fff"/>
<line x1="19.00" y1="772.20" x2="28.00" y2="772.20" stroke="#000" stroke-width="2.2"/>
<text transform="translate(31.70 775.80) scale(1.2408 1)" font-size="10.00px" fill="#000" stroke="#000" stroke-width="0.25" font-weight="normal">MACD(12,26,9) 278.078</text>
<text transform="translate(166.50 775.80) scale(1.2828 1)" font-size="10.00px" fill="#f01818" stroke="#f01818" stroke-width="0.25" font-weight="normal">, 250.292</text>
<text transform="translate(220.30 775.80) scale(1.2921 1)" font-size="10.00px" fill="#3c7ccc" stroke="#3c7ccc" stroke-width="0.25" font-weight="normal">, 27.786</text>
<rect x="902.9" y="0" width="1.1" height="904" fill="#000"/>
<rect x="0" y="902.9" width="904" height="1.1" fill="#000"/>
</svg>
</body></html>
